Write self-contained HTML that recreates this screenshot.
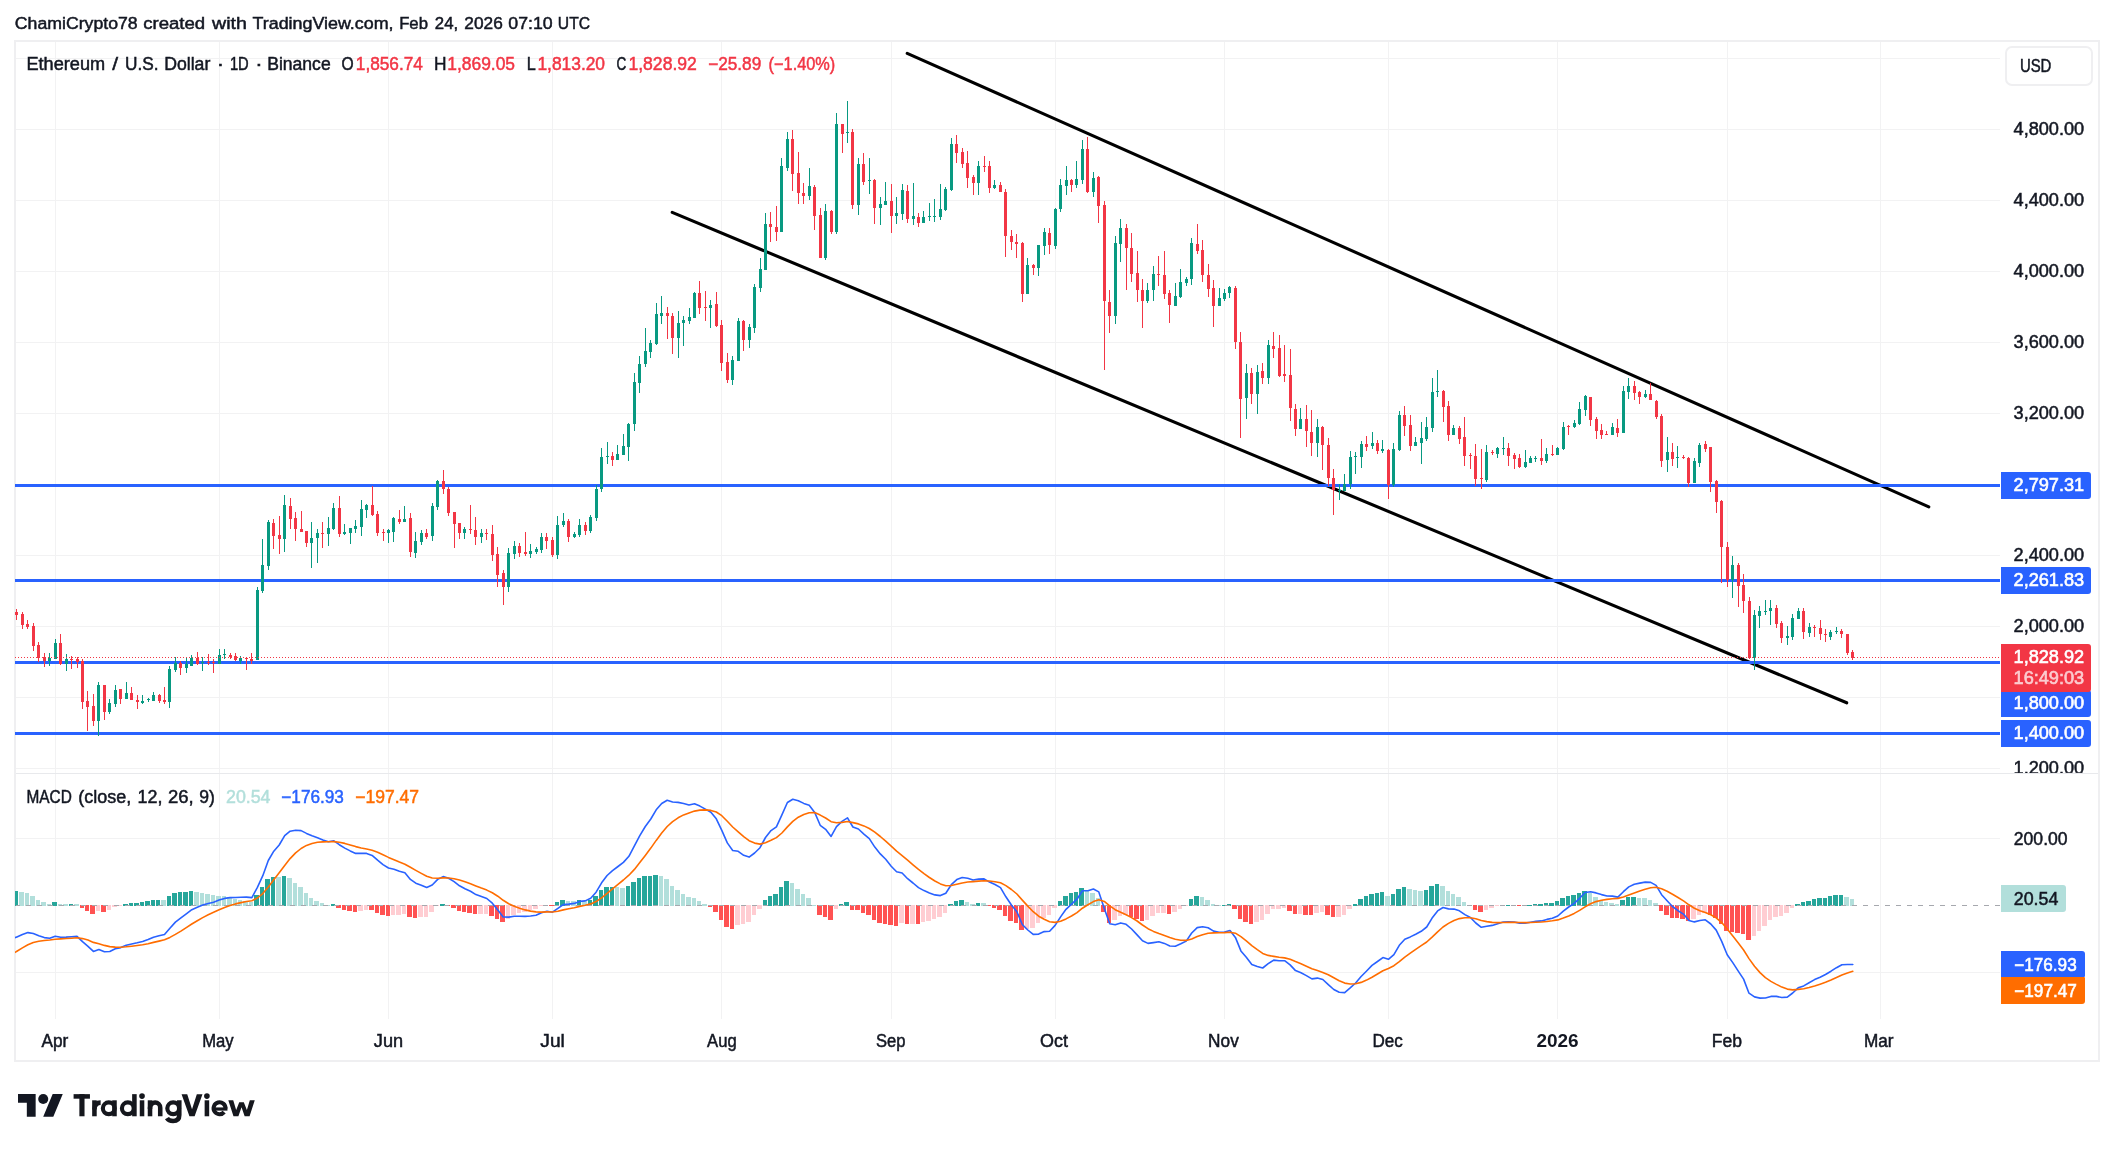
<!DOCTYPE html><html><head><meta charset="utf-8"><title>ETHUSD chart</title><style>html,body{margin:0;padding:0;background:#fff;overflow:hidden}</style></head><body><svg width="2114" height="1151" viewBox="0 0 2114 1151" style="display:block;will-change:transform">
<rect width="2114" height="1151" fill="#fff"/>
<g shape-rendering="crispEdges">
<rect x="55" y="42" width="1" height="977" fill="#F2F2F3"/>
<rect x="219" y="42" width="1" height="977" fill="#F2F2F3"/>
<rect x="388" y="42" width="1" height="977" fill="#F2F2F3"/>
<rect x="552" y="42" width="1" height="977" fill="#F2F2F3"/>
<rect x="721" y="42" width="1" height="977" fill="#F2F2F3"/>
<rect x="891" y="42" width="1" height="977" fill="#F2F2F3"/>
<rect x="1055" y="42" width="1" height="977" fill="#F2F2F3"/>
<rect x="1224" y="42" width="1" height="977" fill="#F2F2F3"/>
<rect x="1388" y="42" width="1" height="977" fill="#F2F2F3"/>
<rect x="1557" y="42" width="1" height="977" fill="#F2F2F3"/>
<rect x="1727" y="42" width="1" height="977" fill="#F2F2F3"/>
<rect x="1880" y="42" width="1" height="977" fill="#F2F2F3"/>
<rect x="16" y="768" width="1984" height="1" fill="#F2F2F3"/>
<rect x="16" y="697" width="1984" height="1" fill="#F2F2F3"/>
<rect x="16" y="626" width="1984" height="1" fill="#F2F2F3"/>
<rect x="16" y="555" width="1984" height="1" fill="#F2F2F3"/>
<rect x="16" y="484" width="1984" height="1" fill="#F2F2F3"/>
<rect x="16" y="413" width="1984" height="1" fill="#F2F2F3"/>
<rect x="16" y="342" width="1984" height="1" fill="#F2F2F3"/>
<rect x="16" y="271" width="1984" height="1" fill="#F2F2F3"/>
<rect x="16" y="200" width="1984" height="1" fill="#F2F2F3"/>
<rect x="16" y="129" width="1984" height="1" fill="#F2F2F3"/>
<rect x="16" y="58" width="1984" height="1" fill="#F2F2F3"/>
<rect x="16" y="838" width="1984" height="1" fill="#F2F2F3"/>
<rect x="16" y="972" width="1984" height="1" fill="#F2F2F3"/>
<rect x="16" y="773" width="2082" height="1" fill="#E8E9EC"/>
<rect x="14" y="40" width="2086" height="2" fill="#EFEFF1"/>
<rect x="14" y="1060" width="2086" height="2" fill="#EFEFF1"/>
<rect x="14" y="40" width="2" height="1022" fill="#EFEFF1"/>
<rect x="2098" y="40" width="2" height="1022" fill="#EFEFF1"/>
</g>
<line x1="672.2" y1="212.4" x2="1846.7" y2="702.8" stroke="#000" stroke-width="3.1" stroke-linecap="round"/>
<line x1="907.2" y1="53.3" x2="1928.8" y2="506.8" stroke="#000" stroke-width="3.1" stroke-linecap="round"/>
<g shape-rendering="crispEdges">
<rect x="15" y="484" width="1985" height="3" fill="#2962FF"/>
<rect x="15" y="579" width="1985" height="3" fill="#2962FF"/>
<rect x="15" y="661" width="1985" height="3" fill="#2962FF"/>
<rect x="15" y="732" width="1985" height="3" fill="#2962FF"/>
</g>
<g shape-rendering="crispEdges">
<rect x="16" y="609" width="1" height="11" fill="#F23645"/>
<rect x="15" y="612" width="3" height="3" fill="#F23645"/>
<rect x="22" y="612" width="1" height="17" fill="#F23645"/>
<rect x="21" y="614" width="3" height="11" fill="#F23645"/>
<rect x="27" y="620" width="1" height="9" fill="#F23645"/>
<rect x="26" y="624" width="3" height="3" fill="#F23645"/>
<rect x="33" y="623" width="1" height="28" fill="#F23645"/>
<rect x="32" y="626" width="3" height="20" fill="#F23645"/>
<rect x="38" y="642" width="1" height="20" fill="#F23645"/>
<rect x="37" y="645" width="3" height="13" fill="#F23645"/>
<rect x="44" y="653" width="1" height="14" fill="#F23645"/>
<rect x="43" y="657" width="3" height="4" fill="#F23645"/>
<rect x="49" y="653" width="1" height="13" fill="#089981"/>
<rect x="48" y="658" width="3" height="3" fill="#089981"/>
<rect x="55" y="639" width="1" height="20" fill="#089981"/>
<rect x="54" y="643" width="3" height="16" fill="#089981"/>
<rect x="60" y="634" width="1" height="31" fill="#F23645"/>
<rect x="59" y="643" width="3" height="21" fill="#F23645"/>
<rect x="66" y="654" width="1" height="17" fill="#089981"/>
<rect x="65" y="659" width="3" height="5" fill="#089981"/>
<rect x="71" y="656" width="1" height="13" fill="#F23645"/>
<rect x="70" y="659" width="3" height="1" fill="#F23645"/>
<rect x="77" y="657" width="1" height="11" fill="#F23645"/>
<rect x="76" y="659" width="3" height="3" fill="#F23645"/>
<rect x="82" y="659" width="1" height="50" fill="#F23645"/>
<rect x="81" y="661" width="3" height="41" fill="#F23645"/>
<rect x="87" y="691" width="1" height="40" fill="#F23645"/>
<rect x="86" y="701" width="3" height="6" fill="#F23645"/>
<rect x="93" y="694" width="1" height="32" fill="#F23645"/>
<rect x="92" y="706" width="3" height="15" fill="#F23645"/>
<rect x="98" y="682" width="1" height="54" fill="#089981"/>
<rect x="97" y="685" width="3" height="36" fill="#089981"/>
<rect x="104" y="685" width="1" height="35" fill="#F23645"/>
<rect x="103" y="685" width="3" height="27" fill="#F23645"/>
<rect x="109" y="699" width="1" height="15" fill="#089981"/>
<rect x="108" y="703" width="3" height="9" fill="#089981"/>
<rect x="115" y="685" width="1" height="22" fill="#089981"/>
<rect x="114" y="690" width="3" height="14" fill="#089981"/>
<rect x="120" y="689" width="1" height="15" fill="#F23645"/>
<rect x="119" y="689" width="3" height="10" fill="#F23645"/>
<rect x="126" y="682" width="1" height="17" fill="#089981"/>
<rect x="125" y="693" width="3" height="6" fill="#089981"/>
<rect x="131" y="687" width="1" height="13" fill="#F23645"/>
<rect x="130" y="693" width="3" height="7" fill="#F23645"/>
<rect x="137" y="695" width="1" height="14" fill="#F23645"/>
<rect x="136" y="700" width="3" height="2" fill="#F23645"/>
<rect x="142" y="695" width="1" height="9" fill="#089981"/>
<rect x="141" y="701" width="3" height="2" fill="#089981"/>
<rect x="148" y="698" width="1" height="4" fill="#089981"/>
<rect x="147" y="699" width="3" height="1" fill="#089981"/>
<rect x="153" y="692" width="1" height="9" fill="#089981"/>
<rect x="152" y="695" width="3" height="6" fill="#089981"/>
<rect x="159" y="694" width="1" height="9" fill="#F23645"/>
<rect x="158" y="695" width="3" height="6" fill="#F23645"/>
<rect x="164" y="687" width="1" height="17" fill="#F23645"/>
<rect x="163" y="700" width="3" height="2" fill="#F23645"/>
<rect x="169" y="666" width="1" height="42" fill="#089981"/>
<rect x="168" y="669" width="3" height="33" fill="#089981"/>
<rect x="175" y="657" width="1" height="15" fill="#089981"/>
<rect x="174" y="663" width="3" height="7" fill="#089981"/>
<rect x="180" y="661" width="1" height="14" fill="#F23645"/>
<rect x="179" y="663" width="3" height="5" fill="#F23645"/>
<rect x="186" y="657" width="1" height="16" fill="#089981"/>
<rect x="185" y="664" width="3" height="4" fill="#089981"/>
<rect x="191" y="655" width="1" height="11" fill="#089981"/>
<rect x="190" y="658" width="3" height="8" fill="#089981"/>
<rect x="197" y="652" width="1" height="13" fill="#F23645"/>
<rect x="196" y="658" width="3" height="6" fill="#F23645"/>
<rect x="202" y="657" width="1" height="14" fill="#089981"/>
<rect x="201" y="662" width="3" height="1" fill="#089981"/>
<rect x="208" y="654" width="1" height="11" fill="#F23645"/>
<rect x="207" y="662" width="3" height="1" fill="#F23645"/>
<rect x="213" y="659" width="1" height="14" fill="#F23645"/>
<rect x="212" y="662" width="3" height="1" fill="#F23645"/>
<rect x="219" y="649" width="1" height="15" fill="#089981"/>
<rect x="218" y="655" width="3" height="9" fill="#089981"/>
<rect x="224" y="649" width="1" height="10" fill="#089981"/>
<rect x="223" y="654" width="3" height="1" fill="#089981"/>
<rect x="230" y="653" width="1" height="6" fill="#F23645"/>
<rect x="229" y="655" width="3" height="2" fill="#F23645"/>
<rect x="235" y="653" width="1" height="8" fill="#F23645"/>
<rect x="234" y="656" width="3" height="4" fill="#F23645"/>
<rect x="240" y="656" width="1" height="8" fill="#089981"/>
<rect x="239" y="658" width="3" height="3" fill="#089981"/>
<rect x="246" y="657" width="1" height="13" fill="#F23645"/>
<rect x="245" y="658" width="3" height="1" fill="#F23645"/>
<rect x="251" y="653" width="1" height="11" fill="#F23645"/>
<rect x="250" y="659" width="3" height="2" fill="#F23645"/>
<rect x="257" y="587" width="1" height="73" fill="#089981"/>
<rect x="256" y="590" width="3" height="70" fill="#089981"/>
<rect x="262" y="539" width="1" height="54" fill="#089981"/>
<rect x="261" y="565" width="3" height="26" fill="#089981"/>
<rect x="268" y="520" width="1" height="50" fill="#089981"/>
<rect x="267" y="522" width="3" height="44" fill="#089981"/>
<rect x="273" y="519" width="1" height="30" fill="#F23645"/>
<rect x="272" y="523" width="3" height="13" fill="#F23645"/>
<rect x="279" y="516" width="1" height="38" fill="#F23645"/>
<rect x="278" y="535" width="3" height="4" fill="#F23645"/>
<rect x="284" y="495" width="1" height="57" fill="#089981"/>
<rect x="283" y="505" width="3" height="34" fill="#089981"/>
<rect x="290" y="498" width="1" height="31" fill="#F23645"/>
<rect x="289" y="506" width="3" height="13" fill="#F23645"/>
<rect x="295" y="512" width="1" height="29" fill="#F23645"/>
<rect x="294" y="518" width="3" height="11" fill="#F23645"/>
<rect x="301" y="511" width="1" height="21" fill="#F23645"/>
<rect x="300" y="529" width="3" height="3" fill="#F23645"/>
<rect x="306" y="531" width="1" height="16" fill="#F23645"/>
<rect x="305" y="531" width="3" height="12" fill="#F23645"/>
<rect x="311" y="522" width="1" height="46" fill="#089981"/>
<rect x="310" y="538" width="3" height="5" fill="#089981"/>
<rect x="317" y="529" width="1" height="34" fill="#089981"/>
<rect x="316" y="533" width="3" height="5" fill="#089981"/>
<rect x="322" y="522" width="1" height="26" fill="#F23645"/>
<rect x="321" y="533" width="3" height="1" fill="#F23645"/>
<rect x="328" y="517" width="1" height="29" fill="#089981"/>
<rect x="327" y="528" width="3" height="6" fill="#089981"/>
<rect x="333" y="503" width="1" height="27" fill="#089981"/>
<rect x="332" y="508" width="3" height="21" fill="#089981"/>
<rect x="339" y="496" width="1" height="41" fill="#F23645"/>
<rect x="338" y="508" width="3" height="26" fill="#F23645"/>
<rect x="344" y="524" width="1" height="11" fill="#089981"/>
<rect x="343" y="532" width="3" height="2" fill="#089981"/>
<rect x="350" y="528" width="1" height="16" fill="#089981"/>
<rect x="349" y="528" width="3" height="5" fill="#089981"/>
<rect x="355" y="520" width="1" height="13" fill="#089981"/>
<rect x="354" y="526" width="3" height="3" fill="#089981"/>
<rect x="361" y="500" width="1" height="36" fill="#089981"/>
<rect x="360" y="509" width="3" height="18" fill="#089981"/>
<rect x="366" y="504" width="1" height="14" fill="#089981"/>
<rect x="365" y="505" width="3" height="5" fill="#089981"/>
<rect x="372" y="486" width="1" height="30" fill="#F23645"/>
<rect x="371" y="505" width="3" height="10" fill="#F23645"/>
<rect x="377" y="511" width="1" height="25" fill="#F23645"/>
<rect x="376" y="514" width="3" height="19" fill="#F23645"/>
<rect x="383" y="529" width="1" height="12" fill="#F23645"/>
<rect x="382" y="532" width="3" height="1" fill="#F23645"/>
<rect x="388" y="529" width="1" height="14" fill="#089981"/>
<rect x="387" y="530" width="3" height="3" fill="#089981"/>
<rect x="393" y="517" width="1" height="25" fill="#089981"/>
<rect x="392" y="518" width="3" height="14" fill="#089981"/>
<rect x="399" y="510" width="1" height="14" fill="#F23645"/>
<rect x="398" y="519" width="3" height="3" fill="#F23645"/>
<rect x="404" y="506" width="1" height="16" fill="#089981"/>
<rect x="403" y="519" width="3" height="3" fill="#089981"/>
<rect x="410" y="513" width="1" height="44" fill="#F23645"/>
<rect x="409" y="518" width="3" height="34" fill="#F23645"/>
<rect x="415" y="532" width="1" height="26" fill="#089981"/>
<rect x="414" y="541" width="3" height="12" fill="#089981"/>
<rect x="421" y="530" width="1" height="15" fill="#089981"/>
<rect x="420" y="533" width="3" height="9" fill="#089981"/>
<rect x="426" y="529" width="1" height="10" fill="#F23645"/>
<rect x="425" y="533" width="3" height="4" fill="#F23645"/>
<rect x="432" y="503" width="1" height="38" fill="#089981"/>
<rect x="431" y="506" width="3" height="30" fill="#089981"/>
<rect x="437" y="480" width="1" height="30" fill="#089981"/>
<rect x="436" y="481" width="3" height="26" fill="#089981"/>
<rect x="443" y="470" width="1" height="24" fill="#F23645"/>
<rect x="442" y="481" width="3" height="8" fill="#F23645"/>
<rect x="448" y="487" width="1" height="29" fill="#F23645"/>
<rect x="447" y="489" width="3" height="24" fill="#F23645"/>
<rect x="454" y="512" width="1" height="36" fill="#F23645"/>
<rect x="453" y="512" width="3" height="12" fill="#F23645"/>
<rect x="459" y="523" width="1" height="16" fill="#F23645"/>
<rect x="458" y="523" width="3" height="10" fill="#F23645"/>
<rect x="464" y="527" width="1" height="12" fill="#089981"/>
<rect x="463" y="529" width="3" height="4" fill="#089981"/>
<rect x="470" y="505" width="1" height="29" fill="#F23645"/>
<rect x="469" y="529" width="3" height="1" fill="#F23645"/>
<rect x="475" y="517" width="1" height="28" fill="#F23645"/>
<rect x="474" y="530" width="3" height="7" fill="#F23645"/>
<rect x="481" y="529" width="1" height="14" fill="#089981"/>
<rect x="480" y="533" width="3" height="4" fill="#089981"/>
<rect x="486" y="529" width="1" height="11" fill="#F23645"/>
<rect x="485" y="533" width="3" height="1" fill="#F23645"/>
<rect x="492" y="525" width="1" height="36" fill="#F23645"/>
<rect x="491" y="534" width="3" height="21" fill="#F23645"/>
<rect x="497" y="547" width="1" height="40" fill="#F23645"/>
<rect x="496" y="554" width="3" height="21" fill="#F23645"/>
<rect x="503" y="570" width="1" height="35" fill="#F23645"/>
<rect x="502" y="573" width="3" height="14" fill="#F23645"/>
<rect x="508" y="548" width="1" height="44" fill="#089981"/>
<rect x="507" y="553" width="3" height="34" fill="#089981"/>
<rect x="514" y="541" width="1" height="18" fill="#089981"/>
<rect x="513" y="546" width="3" height="8" fill="#089981"/>
<rect x="519" y="543" width="1" height="14" fill="#F23645"/>
<rect x="518" y="546" width="3" height="7" fill="#F23645"/>
<rect x="525" y="532" width="1" height="24" fill="#F23645"/>
<rect x="524" y="552" width="3" height="2" fill="#F23645"/>
<rect x="530" y="544" width="1" height="14" fill="#089981"/>
<rect x="529" y="551" width="3" height="3" fill="#089981"/>
<rect x="536" y="547" width="1" height="7" fill="#089981"/>
<rect x="535" y="549" width="3" height="3" fill="#089981"/>
<rect x="541" y="533" width="1" height="20" fill="#089981"/>
<rect x="540" y="537" width="3" height="13" fill="#089981"/>
<rect x="546" y="533" width="1" height="16" fill="#F23645"/>
<rect x="545" y="537" width="3" height="4" fill="#F23645"/>
<rect x="552" y="537" width="1" height="20" fill="#F23645"/>
<rect x="551" y="540" width="3" height="15" fill="#F23645"/>
<rect x="557" y="516" width="1" height="43" fill="#089981"/>
<rect x="556" y="525" width="3" height="30" fill="#089981"/>
<rect x="563" y="513" width="1" height="14" fill="#089981"/>
<rect x="562" y="521" width="3" height="4" fill="#089981"/>
<rect x="568" y="519" width="1" height="23" fill="#F23645"/>
<rect x="567" y="521" width="3" height="16" fill="#F23645"/>
<rect x="574" y="532" width="1" height="6" fill="#089981"/>
<rect x="573" y="534" width="3" height="3" fill="#089981"/>
<rect x="579" y="519" width="1" height="18" fill="#089981"/>
<rect x="578" y="525" width="3" height="10" fill="#089981"/>
<rect x="585" y="522" width="1" height="13" fill="#F23645"/>
<rect x="584" y="525" width="3" height="6" fill="#F23645"/>
<rect x="590" y="515" width="1" height="18" fill="#089981"/>
<rect x="589" y="517" width="3" height="14" fill="#089981"/>
<rect x="596" y="485" width="1" height="36" fill="#089981"/>
<rect x="595" y="489" width="3" height="29" fill="#089981"/>
<rect x="601" y="448" width="1" height="44" fill="#089981"/>
<rect x="600" y="457" width="3" height="32" fill="#089981"/>
<rect x="607" y="442" width="1" height="22" fill="#089981"/>
<rect x="606" y="456" width="3" height="1" fill="#089981"/>
<rect x="612" y="452" width="1" height="14" fill="#F23645"/>
<rect x="611" y="456" width="3" height="4" fill="#F23645"/>
<rect x="617" y="445" width="1" height="15" fill="#089981"/>
<rect x="616" y="454" width="3" height="6" fill="#089981"/>
<rect x="623" y="434" width="1" height="21" fill="#089981"/>
<rect x="622" y="446" width="3" height="9" fill="#089981"/>
<rect x="628" y="423" width="1" height="38" fill="#089981"/>
<rect x="627" y="424" width="3" height="23" fill="#089981"/>
<rect x="634" y="373" width="1" height="58" fill="#089981"/>
<rect x="633" y="382" width="3" height="42" fill="#089981"/>
<rect x="639" y="356" width="1" height="37" fill="#089981"/>
<rect x="638" y="364" width="3" height="19" fill="#089981"/>
<rect x="645" y="328" width="1" height="39" fill="#089981"/>
<rect x="644" y="351" width="3" height="13" fill="#089981"/>
<rect x="650" y="340" width="1" height="18" fill="#089981"/>
<rect x="649" y="343" width="3" height="9" fill="#089981"/>
<rect x="656" y="303" width="1" height="42" fill="#089981"/>
<rect x="655" y="314" width="3" height="30" fill="#089981"/>
<rect x="661" y="296" width="1" height="28" fill="#089981"/>
<rect x="660" y="313" width="3" height="3" fill="#089981"/>
<rect x="667" y="307" width="1" height="32" fill="#F23645"/>
<rect x="666" y="313" width="3" height="3" fill="#F23645"/>
<rect x="672" y="313" width="1" height="41" fill="#F23645"/>
<rect x="671" y="316" width="3" height="22" fill="#F23645"/>
<rect x="678" y="311" width="1" height="47" fill="#089981"/>
<rect x="677" y="323" width="3" height="15" fill="#089981"/>
<rect x="683" y="316" width="1" height="30" fill="#089981"/>
<rect x="682" y="320" width="3" height="3" fill="#089981"/>
<rect x="689" y="308" width="1" height="16" fill="#089981"/>
<rect x="688" y="317" width="3" height="4" fill="#089981"/>
<rect x="694" y="292" width="1" height="26" fill="#089981"/>
<rect x="693" y="293" width="3" height="25" fill="#089981"/>
<rect x="699" y="281" width="1" height="33" fill="#F23645"/>
<rect x="698" y="293" width="3" height="15" fill="#F23645"/>
<rect x="705" y="291" width="1" height="30" fill="#F23645"/>
<rect x="704" y="307" width="3" height="1" fill="#F23645"/>
<rect x="710" y="300" width="1" height="28" fill="#089981"/>
<rect x="709" y="305" width="3" height="3" fill="#089981"/>
<rect x="716" y="292" width="1" height="35" fill="#F23645"/>
<rect x="715" y="304" width="3" height="22" fill="#F23645"/>
<rect x="721" y="320" width="1" height="51" fill="#F23645"/>
<rect x="720" y="325" width="3" height="38" fill="#F23645"/>
<rect x="727" y="353" width="1" height="30" fill="#F23645"/>
<rect x="726" y="362" width="3" height="18" fill="#F23645"/>
<rect x="732" y="356" width="1" height="29" fill="#089981"/>
<rect x="731" y="360" width="3" height="20" fill="#089981"/>
<rect x="738" y="318" width="1" height="43" fill="#089981"/>
<rect x="737" y="321" width="3" height="40" fill="#089981"/>
<rect x="743" y="320" width="1" height="31" fill="#F23645"/>
<rect x="742" y="321" width="3" height="19" fill="#F23645"/>
<rect x="749" y="324" width="1" height="24" fill="#089981"/>
<rect x="748" y="327" width="3" height="13" fill="#089981"/>
<rect x="754" y="284" width="1" height="49" fill="#089981"/>
<rect x="753" y="287" width="3" height="41" fill="#089981"/>
<rect x="760" y="258" width="1" height="34" fill="#089981"/>
<rect x="759" y="269" width="3" height="19" fill="#089981"/>
<rect x="765" y="213" width="1" height="57" fill="#089981"/>
<rect x="764" y="224" width="3" height="46" fill="#089981"/>
<rect x="770" y="212" width="1" height="30" fill="#F23645"/>
<rect x="769" y="224" width="3" height="3" fill="#F23645"/>
<rect x="776" y="206" width="1" height="35" fill="#F23645"/>
<rect x="775" y="227" width="3" height="5" fill="#F23645"/>
<rect x="781" y="158" width="1" height="74" fill="#089981"/>
<rect x="780" y="166" width="3" height="66" fill="#089981"/>
<rect x="787" y="132" width="1" height="39" fill="#089981"/>
<rect x="786" y="139" width="3" height="29" fill="#089981"/>
<rect x="792" y="130" width="1" height="61" fill="#F23645"/>
<rect x="791" y="139" width="3" height="35" fill="#F23645"/>
<rect x="798" y="152" width="1" height="52" fill="#F23645"/>
<rect x="797" y="173" width="3" height="20" fill="#F23645"/>
<rect x="803" y="183" width="1" height="21" fill="#F23645"/>
<rect x="802" y="193" width="3" height="3" fill="#F23645"/>
<rect x="809" y="168" width="1" height="32" fill="#089981"/>
<rect x="808" y="186" width="3" height="10" fill="#089981"/>
<rect x="814" y="185" width="1" height="45" fill="#F23645"/>
<rect x="813" y="187" width="3" height="29" fill="#F23645"/>
<rect x="820" y="208" width="1" height="50" fill="#F23645"/>
<rect x="819" y="215" width="3" height="43" fill="#F23645"/>
<rect x="825" y="204" width="1" height="56" fill="#089981"/>
<rect x="824" y="211" width="3" height="47" fill="#089981"/>
<rect x="831" y="210" width="1" height="24" fill="#F23645"/>
<rect x="830" y="211" width="3" height="21" fill="#F23645"/>
<rect x="836" y="113" width="1" height="121" fill="#089981"/>
<rect x="835" y="124" width="3" height="108" fill="#089981"/>
<rect x="842" y="124" width="1" height="29" fill="#F23645"/>
<rect x="841" y="124" width="3" height="10" fill="#F23645"/>
<rect x="847" y="101" width="1" height="42" fill="#089981"/>
<rect x="846" y="132" width="3" height="1" fill="#089981"/>
<rect x="852" y="129" width="1" height="80" fill="#F23645"/>
<rect x="851" y="132" width="3" height="73" fill="#F23645"/>
<rect x="858" y="158" width="1" height="57" fill="#089981"/>
<rect x="857" y="164" width="3" height="41" fill="#089981"/>
<rect x="863" y="153" width="1" height="32" fill="#F23645"/>
<rect x="862" y="164" width="3" height="18" fill="#F23645"/>
<rect x="869" y="158" width="1" height="36" fill="#089981"/>
<rect x="868" y="180" width="3" height="1" fill="#089981"/>
<rect x="874" y="179" width="1" height="45" fill="#F23645"/>
<rect x="873" y="180" width="3" height="28" fill="#F23645"/>
<rect x="880" y="197" width="1" height="28" fill="#089981"/>
<rect x="879" y="204" width="3" height="4" fill="#089981"/>
<rect x="885" y="182" width="1" height="23" fill="#089981"/>
<rect x="884" y="201" width="3" height="4" fill="#089981"/>
<rect x="891" y="184" width="1" height="49" fill="#F23645"/>
<rect x="890" y="201" width="3" height="15" fill="#F23645"/>
<rect x="896" y="197" width="1" height="27" fill="#089981"/>
<rect x="895" y="213" width="3" height="3" fill="#089981"/>
<rect x="902" y="184" width="1" height="36" fill="#089981"/>
<rect x="901" y="190" width="3" height="24" fill="#089981"/>
<rect x="907" y="185" width="1" height="38" fill="#F23645"/>
<rect x="906" y="191" width="3" height="28" fill="#F23645"/>
<rect x="913" y="183" width="1" height="42" fill="#089981"/>
<rect x="912" y="216" width="3" height="3" fill="#089981"/>
<rect x="918" y="213" width="1" height="14" fill="#F23645"/>
<rect x="917" y="217" width="3" height="6" fill="#F23645"/>
<rect x="923" y="211" width="1" height="12" fill="#089981"/>
<rect x="922" y="217" width="3" height="6" fill="#089981"/>
<rect x="929" y="203" width="1" height="18" fill="#089981"/>
<rect x="928" y="216" width="3" height="1" fill="#089981"/>
<rect x="934" y="199" width="1" height="23" fill="#089981"/>
<rect x="933" y="216" width="3" height="1" fill="#089981"/>
<rect x="940" y="184" width="1" height="36" fill="#089981"/>
<rect x="939" y="209" width="3" height="8" fill="#089981"/>
<rect x="945" y="187" width="1" height="24" fill="#089981"/>
<rect x="944" y="189" width="3" height="21" fill="#089981"/>
<rect x="951" y="138" width="1" height="53" fill="#089981"/>
<rect x="950" y="144" width="3" height="46" fill="#089981"/>
<rect x="956" y="135" width="1" height="28" fill="#F23645"/>
<rect x="955" y="144" width="3" height="9" fill="#F23645"/>
<rect x="962" y="148" width="1" height="20" fill="#F23645"/>
<rect x="961" y="152" width="3" height="12" fill="#F23645"/>
<rect x="967" y="151" width="1" height="37" fill="#F23645"/>
<rect x="966" y="163" width="3" height="15" fill="#F23645"/>
<rect x="973" y="175" width="1" height="20" fill="#F23645"/>
<rect x="972" y="177" width="3" height="6" fill="#F23645"/>
<rect x="978" y="161" width="1" height="34" fill="#089981"/>
<rect x="977" y="166" width="3" height="17" fill="#089981"/>
<rect x="984" y="156" width="1" height="16" fill="#F23645"/>
<rect x="983" y="166" width="3" height="1" fill="#F23645"/>
<rect x="989" y="161" width="1" height="32" fill="#F23645"/>
<rect x="988" y="166" width="3" height="22" fill="#F23645"/>
<rect x="994" y="180" width="1" height="9" fill="#089981"/>
<rect x="993" y="185" width="3" height="3" fill="#089981"/>
<rect x="1000" y="182" width="1" height="10" fill="#F23645"/>
<rect x="999" y="185" width="3" height="7" fill="#F23645"/>
<rect x="1005" y="189" width="1" height="68" fill="#F23645"/>
<rect x="1004" y="192" width="3" height="44" fill="#F23645"/>
<rect x="1011" y="230" width="1" height="20" fill="#F23645"/>
<rect x="1010" y="236" width="3" height="6" fill="#F23645"/>
<rect x="1016" y="234" width="1" height="24" fill="#F23645"/>
<rect x="1015" y="242" width="3" height="2" fill="#F23645"/>
<rect x="1022" y="242" width="1" height="60" fill="#F23645"/>
<rect x="1021" y="243" width="3" height="51" fill="#F23645"/>
<rect x="1027" y="258" width="1" height="36" fill="#089981"/>
<rect x="1026" y="265" width="3" height="29" fill="#089981"/>
<rect x="1033" y="264" width="1" height="11" fill="#F23645"/>
<rect x="1032" y="265" width="3" height="3" fill="#F23645"/>
<rect x="1038" y="245" width="1" height="31" fill="#089981"/>
<rect x="1037" y="245" width="3" height="23" fill="#089981"/>
<rect x="1044" y="228" width="1" height="27" fill="#089981"/>
<rect x="1043" y="232" width="3" height="14" fill="#089981"/>
<rect x="1049" y="228" width="1" height="26" fill="#F23645"/>
<rect x="1048" y="233" width="3" height="12" fill="#F23645"/>
<rect x="1055" y="208" width="1" height="41" fill="#089981"/>
<rect x="1054" y="209" width="3" height="37" fill="#089981"/>
<rect x="1060" y="179" width="1" height="33" fill="#089981"/>
<rect x="1059" y="185" width="3" height="24" fill="#089981"/>
<rect x="1066" y="166" width="1" height="29" fill="#089981"/>
<rect x="1065" y="180" width="3" height="6" fill="#089981"/>
<rect x="1071" y="179" width="1" height="13" fill="#F23645"/>
<rect x="1070" y="180" width="3" height="5" fill="#F23645"/>
<rect x="1076" y="161" width="1" height="27" fill="#089981"/>
<rect x="1075" y="179" width="3" height="6" fill="#089981"/>
<rect x="1082" y="140" width="1" height="44" fill="#089981"/>
<rect x="1081" y="149" width="3" height="31" fill="#089981"/>
<rect x="1087" y="137" width="1" height="56" fill="#F23645"/>
<rect x="1086" y="149" width="3" height="43" fill="#F23645"/>
<rect x="1093" y="172" width="1" height="25" fill="#089981"/>
<rect x="1092" y="178" width="3" height="14" fill="#089981"/>
<rect x="1098" y="176" width="1" height="47" fill="#F23645"/>
<rect x="1097" y="177" width="3" height="29" fill="#F23645"/>
<rect x="1104" y="201" width="1" height="169" fill="#F23645"/>
<rect x="1103" y="205" width="3" height="96" fill="#F23645"/>
<rect x="1109" y="290" width="1" height="43" fill="#F23645"/>
<rect x="1108" y="302" width="3" height="14" fill="#F23645"/>
<rect x="1115" y="236" width="1" height="88" fill="#089981"/>
<rect x="1114" y="243" width="3" height="73" fill="#089981"/>
<rect x="1120" y="219" width="1" height="43" fill="#089981"/>
<rect x="1119" y="228" width="3" height="16" fill="#089981"/>
<rect x="1126" y="224" width="1" height="66" fill="#F23645"/>
<rect x="1125" y="228" width="3" height="20" fill="#F23645"/>
<rect x="1131" y="233" width="1" height="49" fill="#F23645"/>
<rect x="1130" y="248" width="3" height="26" fill="#F23645"/>
<rect x="1137" y="251" width="1" height="51" fill="#F23645"/>
<rect x="1136" y="273" width="3" height="17" fill="#F23645"/>
<rect x="1142" y="279" width="1" height="49" fill="#F23645"/>
<rect x="1141" y="290" width="3" height="11" fill="#F23645"/>
<rect x="1147" y="283" width="1" height="20" fill="#089981"/>
<rect x="1146" y="290" width="3" height="11" fill="#089981"/>
<rect x="1153" y="266" width="1" height="35" fill="#089981"/>
<rect x="1152" y="274" width="3" height="16" fill="#089981"/>
<rect x="1158" y="256" width="1" height="30" fill="#F23645"/>
<rect x="1157" y="274" width="3" height="1" fill="#F23645"/>
<rect x="1164" y="251" width="1" height="48" fill="#F23645"/>
<rect x="1163" y="275" width="3" height="19" fill="#F23645"/>
<rect x="1169" y="290" width="1" height="33" fill="#F23645"/>
<rect x="1168" y="293" width="3" height="12" fill="#F23645"/>
<rect x="1175" y="283" width="1" height="23" fill="#089981"/>
<rect x="1174" y="296" width="3" height="10" fill="#089981"/>
<rect x="1180" y="269" width="1" height="29" fill="#089981"/>
<rect x="1179" y="282" width="3" height="15" fill="#089981"/>
<rect x="1186" y="277" width="1" height="9" fill="#089981"/>
<rect x="1185" y="279" width="3" height="4" fill="#089981"/>
<rect x="1191" y="238" width="1" height="47" fill="#089981"/>
<rect x="1190" y="243" width="3" height="36" fill="#089981"/>
<rect x="1197" y="224" width="1" height="30" fill="#F23645"/>
<rect x="1196" y="244" width="3" height="7" fill="#F23645"/>
<rect x="1202" y="240" width="1" height="42" fill="#F23645"/>
<rect x="1201" y="250" width="3" height="25" fill="#F23645"/>
<rect x="1208" y="264" width="1" height="33" fill="#F23645"/>
<rect x="1207" y="275" width="3" height="14" fill="#F23645"/>
<rect x="1213" y="280" width="1" height="47" fill="#F23645"/>
<rect x="1212" y="288" width="3" height="18" fill="#F23645"/>
<rect x="1219" y="288" width="1" height="18" fill="#089981"/>
<rect x="1218" y="298" width="3" height="8" fill="#089981"/>
<rect x="1224" y="289" width="1" height="12" fill="#089981"/>
<rect x="1223" y="293" width="3" height="6" fill="#089981"/>
<rect x="1229" y="286" width="1" height="12" fill="#089981"/>
<rect x="1228" y="287" width="3" height="6" fill="#089981"/>
<rect x="1235" y="286" width="1" height="63" fill="#F23645"/>
<rect x="1234" y="288" width="3" height="54" fill="#F23645"/>
<rect x="1240" y="332" width="1" height="106" fill="#F23645"/>
<rect x="1239" y="342" width="3" height="57" fill="#F23645"/>
<rect x="1246" y="364" width="1" height="55" fill="#089981"/>
<rect x="1245" y="373" width="3" height="25" fill="#089981"/>
<rect x="1251" y="368" width="1" height="36" fill="#F23645"/>
<rect x="1250" y="373" width="3" height="21" fill="#F23645"/>
<rect x="1257" y="365" width="1" height="49" fill="#089981"/>
<rect x="1256" y="372" width="3" height="22" fill="#089981"/>
<rect x="1262" y="363" width="1" height="21" fill="#F23645"/>
<rect x="1261" y="371" width="3" height="7" fill="#F23645"/>
<rect x="1268" y="340" width="1" height="44" fill="#089981"/>
<rect x="1267" y="345" width="3" height="33" fill="#089981"/>
<rect x="1273" y="332" width="1" height="26" fill="#F23645"/>
<rect x="1272" y="346" width="3" height="3" fill="#F23645"/>
<rect x="1279" y="335" width="1" height="42" fill="#F23645"/>
<rect x="1278" y="348" width="3" height="28" fill="#F23645"/>
<rect x="1284" y="345" width="1" height="37" fill="#F23645"/>
<rect x="1283" y="374" width="3" height="2" fill="#F23645"/>
<rect x="1290" y="349" width="1" height="72" fill="#F23645"/>
<rect x="1289" y="375" width="3" height="33" fill="#F23645"/>
<rect x="1295" y="404" width="1" height="32" fill="#F23645"/>
<rect x="1294" y="409" width="3" height="20" fill="#F23645"/>
<rect x="1300" y="408" width="1" height="21" fill="#089981"/>
<rect x="1299" y="419" width="3" height="10" fill="#089981"/>
<rect x="1306" y="405" width="1" height="42" fill="#F23645"/>
<rect x="1305" y="419" width="3" height="12" fill="#F23645"/>
<rect x="1311" y="410" width="1" height="46" fill="#F23645"/>
<rect x="1310" y="432" width="3" height="11" fill="#F23645"/>
<rect x="1317" y="419" width="1" height="38" fill="#089981"/>
<rect x="1316" y="427" width="3" height="16" fill="#089981"/>
<rect x="1322" y="426" width="1" height="44" fill="#F23645"/>
<rect x="1321" y="427" width="3" height="18" fill="#F23645"/>
<rect x="1328" y="438" width="1" height="48" fill="#F23645"/>
<rect x="1327" y="445" width="3" height="33" fill="#F23645"/>
<rect x="1333" y="469" width="1" height="46" fill="#F23645"/>
<rect x="1332" y="478" width="3" height="12" fill="#F23645"/>
<rect x="1339" y="484" width="1" height="16" fill="#089981"/>
<rect x="1338" y="490" width="3" height="1" fill="#089981"/>
<rect x="1344" y="474" width="1" height="17" fill="#089981"/>
<rect x="1343" y="484" width="3" height="7" fill="#089981"/>
<rect x="1350" y="451" width="1" height="38" fill="#089981"/>
<rect x="1349" y="457" width="3" height="27" fill="#089981"/>
<rect x="1355" y="452" width="1" height="22" fill="#089981"/>
<rect x="1354" y="456" width="3" height="1" fill="#089981"/>
<rect x="1361" y="441" width="1" height="27" fill="#089981"/>
<rect x="1360" y="444" width="3" height="13" fill="#089981"/>
<rect x="1366" y="436" width="1" height="15" fill="#F23645"/>
<rect x="1365" y="444" width="3" height="3" fill="#F23645"/>
<rect x="1372" y="432" width="1" height="17" fill="#089981"/>
<rect x="1371" y="443" width="3" height="3" fill="#089981"/>
<rect x="1377" y="440" width="1" height="14" fill="#F23645"/>
<rect x="1376" y="443" width="3" height="8" fill="#F23645"/>
<rect x="1382" y="440" width="1" height="13" fill="#089981"/>
<rect x="1381" y="449" width="3" height="2" fill="#089981"/>
<rect x="1388" y="449" width="1" height="50" fill="#F23645"/>
<rect x="1387" y="450" width="3" height="35" fill="#F23645"/>
<rect x="1393" y="443" width="1" height="44" fill="#089981"/>
<rect x="1392" y="449" width="3" height="36" fill="#089981"/>
<rect x="1399" y="411" width="1" height="40" fill="#089981"/>
<rect x="1398" y="415" width="3" height="35" fill="#089981"/>
<rect x="1404" y="406" width="1" height="30" fill="#F23645"/>
<rect x="1403" y="415" width="3" height="11" fill="#F23645"/>
<rect x="1410" y="415" width="1" height="36" fill="#F23645"/>
<rect x="1409" y="425" width="3" height="21" fill="#F23645"/>
<rect x="1415" y="437" width="1" height="9" fill="#089981"/>
<rect x="1414" y="442" width="3" height="4" fill="#089981"/>
<rect x="1421" y="422" width="1" height="42" fill="#089981"/>
<rect x="1420" y="438" width="3" height="5" fill="#089981"/>
<rect x="1426" y="417" width="1" height="24" fill="#089981"/>
<rect x="1425" y="427" width="3" height="12" fill="#089981"/>
<rect x="1432" y="378" width="1" height="54" fill="#089981"/>
<rect x="1431" y="392" width="3" height="36" fill="#089981"/>
<rect x="1437" y="370" width="1" height="27" fill="#089981"/>
<rect x="1436" y="391" width="3" height="1" fill="#089981"/>
<rect x="1443" y="390" width="1" height="32" fill="#F23645"/>
<rect x="1442" y="391" width="3" height="16" fill="#F23645"/>
<rect x="1448" y="401" width="1" height="40" fill="#F23645"/>
<rect x="1447" y="406" width="3" height="29" fill="#F23645"/>
<rect x="1453" y="425" width="1" height="10" fill="#089981"/>
<rect x="1452" y="428" width="3" height="7" fill="#089981"/>
<rect x="1459" y="426" width="1" height="18" fill="#F23645"/>
<rect x="1458" y="428" width="3" height="11" fill="#F23645"/>
<rect x="1464" y="417" width="1" height="49" fill="#F23645"/>
<rect x="1463" y="437" width="3" height="19" fill="#F23645"/>
<rect x="1470" y="453" width="1" height="16" fill="#F23645"/>
<rect x="1469" y="455" width="3" height="1" fill="#F23645"/>
<rect x="1475" y="444" width="1" height="42" fill="#F23645"/>
<rect x="1474" y="456" width="3" height="23" fill="#F23645"/>
<rect x="1481" y="449" width="1" height="40" fill="#F23645"/>
<rect x="1480" y="478" width="3" height="1" fill="#F23645"/>
<rect x="1486" y="445" width="1" height="37" fill="#089981"/>
<rect x="1485" y="452" width="3" height="28" fill="#089981"/>
<rect x="1492" y="450" width="1" height="5" fill="#F23645"/>
<rect x="1491" y="452" width="3" height="1" fill="#F23645"/>
<rect x="1497" y="447" width="1" height="11" fill="#089981"/>
<rect x="1496" y="448" width="3" height="6" fill="#089981"/>
<rect x="1503" y="437" width="1" height="18" fill="#089981"/>
<rect x="1502" y="448" width="3" height="1" fill="#089981"/>
<rect x="1508" y="443" width="1" height="23" fill="#F23645"/>
<rect x="1507" y="448" width="3" height="8" fill="#F23645"/>
<rect x="1514" y="453" width="1" height="16" fill="#F23645"/>
<rect x="1513" y="455" width="3" height="4" fill="#F23645"/>
<rect x="1519" y="454" width="1" height="14" fill="#F23645"/>
<rect x="1518" y="458" width="3" height="9" fill="#F23645"/>
<rect x="1525" y="450" width="1" height="18" fill="#089981"/>
<rect x="1524" y="462" width="3" height="5" fill="#089981"/>
<rect x="1530" y="456" width="1" height="7" fill="#089981"/>
<rect x="1529" y="458" width="3" height="5" fill="#089981"/>
<rect x="1535" y="456" width="1" height="6" fill="#089981"/>
<rect x="1534" y="458" width="3" height="1" fill="#089981"/>
<rect x="1541" y="439" width="1" height="26" fill="#F23645"/>
<rect x="1540" y="458" width="3" height="3" fill="#F23645"/>
<rect x="1546" y="448" width="1" height="15" fill="#089981"/>
<rect x="1545" y="454" width="3" height="7" fill="#089981"/>
<rect x="1552" y="445" width="1" height="11" fill="#F23645"/>
<rect x="1551" y="454" width="3" height="1" fill="#F23645"/>
<rect x="1557" y="447" width="1" height="8" fill="#089981"/>
<rect x="1556" y="448" width="3" height="7" fill="#089981"/>
<rect x="1563" y="422" width="1" height="28" fill="#089981"/>
<rect x="1562" y="427" width="3" height="22" fill="#089981"/>
<rect x="1568" y="425" width="1" height="10" fill="#F23645"/>
<rect x="1567" y="426" width="3" height="1" fill="#F23645"/>
<rect x="1574" y="420" width="1" height="8" fill="#089981"/>
<rect x="1573" y="423" width="3" height="4" fill="#089981"/>
<rect x="1579" y="402" width="1" height="23" fill="#089981"/>
<rect x="1578" y="409" width="3" height="15" fill="#089981"/>
<rect x="1585" y="395" width="1" height="21" fill="#089981"/>
<rect x="1584" y="396" width="3" height="14" fill="#089981"/>
<rect x="1590" y="397" width="1" height="29" fill="#F23645"/>
<rect x="1589" y="397" width="3" height="23" fill="#F23645"/>
<rect x="1596" y="417" width="1" height="22" fill="#F23645"/>
<rect x="1595" y="419" width="3" height="12" fill="#F23645"/>
<rect x="1601" y="424" width="1" height="15" fill="#F23645"/>
<rect x="1600" y="430" width="3" height="5" fill="#F23645"/>
<rect x="1606" y="431" width="1" height="4" fill="#F23645"/>
<rect x="1605" y="434" width="3" height="1" fill="#F23645"/>
<rect x="1612" y="423" width="1" height="12" fill="#089981"/>
<rect x="1611" y="427" width="3" height="8" fill="#089981"/>
<rect x="1617" y="419" width="1" height="18" fill="#F23645"/>
<rect x="1616" y="428" width="3" height="5" fill="#F23645"/>
<rect x="1623" y="386" width="1" height="47" fill="#089981"/>
<rect x="1622" y="391" width="3" height="42" fill="#089981"/>
<rect x="1628" y="378" width="1" height="21" fill="#089981"/>
<rect x="1627" y="386" width="3" height="6" fill="#089981"/>
<rect x="1634" y="381" width="1" height="19" fill="#F23645"/>
<rect x="1633" y="386" width="3" height="7" fill="#F23645"/>
<rect x="1639" y="391" width="1" height="13" fill="#F23645"/>
<rect x="1638" y="392" width="3" height="5" fill="#F23645"/>
<rect x="1645" y="390" width="1" height="8" fill="#089981"/>
<rect x="1644" y="394" width="3" height="3" fill="#089981"/>
<rect x="1650" y="383" width="1" height="17" fill="#F23645"/>
<rect x="1649" y="394" width="3" height="6" fill="#F23645"/>
<rect x="1656" y="400" width="1" height="19" fill="#F23645"/>
<rect x="1655" y="401" width="3" height="16" fill="#F23645"/>
<rect x="1661" y="414" width="1" height="53" fill="#F23645"/>
<rect x="1660" y="416" width="3" height="45" fill="#F23645"/>
<rect x="1667" y="437" width="1" height="35" fill="#089981"/>
<rect x="1666" y="452" width="3" height="8" fill="#089981"/>
<rect x="1672" y="443" width="1" height="23" fill="#F23645"/>
<rect x="1671" y="452" width="3" height="7" fill="#F23645"/>
<rect x="1677" y="446" width="1" height="22" fill="#089981"/>
<rect x="1676" y="457" width="3" height="1" fill="#089981"/>
<rect x="1683" y="455" width="1" height="4" fill="#F23645"/>
<rect x="1682" y="457" width="3" height="1" fill="#F23645"/>
<rect x="1688" y="457" width="1" height="30" fill="#F23645"/>
<rect x="1687" y="458" width="3" height="25" fill="#F23645"/>
<rect x="1694" y="458" width="1" height="25" fill="#089981"/>
<rect x="1693" y="461" width="3" height="22" fill="#089981"/>
<rect x="1699" y="443" width="1" height="24" fill="#089981"/>
<rect x="1698" y="445" width="3" height="18" fill="#089981"/>
<rect x="1705" y="441" width="1" height="11" fill="#F23645"/>
<rect x="1704" y="444" width="3" height="5" fill="#F23645"/>
<rect x="1710" y="447" width="1" height="45" fill="#F23645"/>
<rect x="1709" y="447" width="3" height="35" fill="#F23645"/>
<rect x="1716" y="480" width="1" height="33" fill="#F23645"/>
<rect x="1715" y="481" width="3" height="21" fill="#F23645"/>
<rect x="1721" y="500" width="1" height="83" fill="#F23645"/>
<rect x="1720" y="501" width="3" height="46" fill="#F23645"/>
<rect x="1727" y="542" width="1" height="45" fill="#F23645"/>
<rect x="1726" y="547" width="3" height="33" fill="#F23645"/>
<rect x="1732" y="556" width="1" height="42" fill="#089981"/>
<rect x="1731" y="565" width="3" height="15" fill="#089981"/>
<rect x="1738" y="563" width="1" height="44" fill="#F23645"/>
<rect x="1737" y="565" width="3" height="21" fill="#F23645"/>
<rect x="1743" y="574" width="1" height="39" fill="#F23645"/>
<rect x="1742" y="585" width="3" height="16" fill="#F23645"/>
<rect x="1749" y="597" width="1" height="62" fill="#F23645"/>
<rect x="1748" y="601" width="3" height="57" fill="#F23645"/>
<rect x="1754" y="610" width="1" height="60" fill="#089981"/>
<rect x="1753" y="615" width="3" height="43" fill="#089981"/>
<rect x="1759" y="606" width="1" height="22" fill="#089981"/>
<rect x="1758" y="611" width="3" height="5" fill="#089981"/>
<rect x="1765" y="600" width="1" height="15" fill="#089981"/>
<rect x="1764" y="611" width="3" height="1" fill="#089981"/>
<rect x="1770" y="600" width="1" height="25" fill="#089981"/>
<rect x="1769" y="608" width="3" height="3" fill="#089981"/>
<rect x="1776" y="605" width="1" height="23" fill="#F23645"/>
<rect x="1775" y="608" width="3" height="16" fill="#F23645"/>
<rect x="1781" y="621" width="1" height="22" fill="#F23645"/>
<rect x="1780" y="623" width="3" height="15" fill="#F23645"/>
<rect x="1787" y="626" width="1" height="19" fill="#089981"/>
<rect x="1786" y="636" width="3" height="2" fill="#089981"/>
<rect x="1792" y="614" width="1" height="26" fill="#089981"/>
<rect x="1791" y="618" width="3" height="19" fill="#089981"/>
<rect x="1798" y="608" width="1" height="11" fill="#089981"/>
<rect x="1797" y="611" width="3" height="8" fill="#089981"/>
<rect x="1803" y="608" width="1" height="31" fill="#F23645"/>
<rect x="1802" y="611" width="3" height="21" fill="#F23645"/>
<rect x="1809" y="623" width="1" height="14" fill="#089981"/>
<rect x="1808" y="627" width="3" height="6" fill="#089981"/>
<rect x="1814" y="625" width="1" height="12" fill="#F23645"/>
<rect x="1813" y="627" width="3" height="1" fill="#F23645"/>
<rect x="1820" y="620" width="1" height="20" fill="#F23645"/>
<rect x="1819" y="628" width="3" height="6" fill="#F23645"/>
<rect x="1825" y="629" width="1" height="13" fill="#F23645"/>
<rect x="1824" y="634" width="3" height="1" fill="#F23645"/>
<rect x="1830" y="630" width="1" height="10" fill="#089981"/>
<rect x="1829" y="632" width="3" height="5" fill="#089981"/>
<rect x="1836" y="627" width="1" height="7" fill="#089981"/>
<rect x="1835" y="631" width="3" height="1" fill="#089981"/>
<rect x="1841" y="629" width="1" height="9" fill="#F23645"/>
<rect x="1840" y="631" width="3" height="3" fill="#F23645"/>
<rect x="1847" y="634" width="1" height="21" fill="#F23645"/>
<rect x="1846" y="634" width="3" height="19" fill="#F23645"/>
<rect x="1852" y="650" width="1" height="10" fill="#F23645"/>
<rect x="1851" y="652" width="3" height="6" fill="#F23645"/>
</g>
<line x1="15" y1="657.5" x2="2000" y2="657.5" stroke="#F23645" stroke-width="1" stroke-dasharray="1 2" stroke-dashoffset="0" shape-rendering="crispEdges"/>
<clipPath id="pane"><rect x="15" y="42" width="1985" height="977"/></clipPath>
<g shape-rendering="crispEdges">
<rect x="15" y="891" width="3" height="15" fill="#26A69A"/>
<rect x="19" y="892" width="5" height="14" fill="#B2DFDB"/>
<rect x="25" y="893" width="4" height="13" fill="#B2DFDB"/>
<rect x="30" y="896" width="5" height="10" fill="#B2DFDB"/>
<rect x="36" y="900" width="4" height="6" fill="#B2DFDB"/>
<rect x="41" y="902" width="5" height="4" fill="#B2DFDB"/>
<rect x="47" y="904" width="4" height="2" fill="#B2DFDB"/>
<rect x="52" y="902" width="5" height="4" fill="#26A69A"/>
<rect x="58" y="904" width="4" height="2" fill="#B2DFDB"/>
<rect x="63" y="904" width="5" height="2" fill="#B2DFDB"/>
<rect x="69" y="904" width="4" height="2" fill="#26A69A"/>
<rect x="74" y="904" width="5" height="2" fill="#B2DFDB"/>
<rect x="80" y="905" width="4" height="3" fill="#FF5252"/>
<rect x="85" y="905" width="4" height="6" fill="#FF5252"/>
<rect x="90" y="905" width="5" height="9" fill="#FF5252"/>
<rect x="96" y="905" width="4" height="6" fill="#FFCDD2"/>
<rect x="101" y="905" width="5" height="7" fill="#FF5252"/>
<rect x="107" y="905" width="4" height="5" fill="#FFCDD2"/>
<rect x="112" y="905" width="5" height="2" fill="#FFCDD2"/>
<rect x="118" y="905" width="4" height="1" fill="#FFCDD2"/>
<rect x="123" y="904" width="5" height="2" fill="#26A69A"/>
<rect x="129" y="903" width="4" height="3" fill="#26A69A"/>
<rect x="134" y="903" width="5" height="3" fill="#26A69A"/>
<rect x="140" y="902" width="4" height="4" fill="#26A69A"/>
<rect x="145" y="901" width="5" height="5" fill="#26A69A"/>
<rect x="151" y="900" width="4" height="6" fill="#26A69A"/>
<rect x="156" y="900" width="4" height="6" fill="#26A69A"/>
<rect x="161" y="900" width="5" height="6" fill="#B2DFDB"/>
<rect x="167" y="896" width="4" height="10" fill="#26A69A"/>
<rect x="172" y="893" width="5" height="13" fill="#26A69A"/>
<rect x="178" y="892" width="4" height="14" fill="#26A69A"/>
<rect x="183" y="892" width="5" height="14" fill="#26A69A"/>
<rect x="189" y="891" width="4" height="15" fill="#26A69A"/>
<rect x="194" y="892" width="5" height="14" fill="#B2DFDB"/>
<rect x="200" y="893" width="4" height="13" fill="#B2DFDB"/>
<rect x="205" y="894" width="5" height="12" fill="#B2DFDB"/>
<rect x="211" y="895" width="4" height="11" fill="#B2DFDB"/>
<rect x="216" y="896" width="5" height="10" fill="#B2DFDB"/>
<rect x="222" y="896" width="4" height="10" fill="#B2DFDB"/>
<rect x="227" y="897" width="5" height="9" fill="#B2DFDB"/>
<rect x="233" y="899" width="4" height="7" fill="#B2DFDB"/>
<rect x="238" y="900" width="4" height="6" fill="#B2DFDB"/>
<rect x="243" y="901" width="5" height="5" fill="#B2DFDB"/>
<rect x="249" y="902" width="4" height="4" fill="#B2DFDB"/>
<rect x="254" y="895" width="5" height="11" fill="#26A69A"/>
<rect x="260" y="887" width="4" height="19" fill="#26A69A"/>
<rect x="265" y="879" width="5" height="27" fill="#26A69A"/>
<rect x="271" y="877" width="4" height="29" fill="#26A69A"/>
<rect x="276" y="877" width="5" height="29" fill="#B2DFDB"/>
<rect x="282" y="876" width="4" height="30" fill="#26A69A"/>
<rect x="287" y="878" width="5" height="28" fill="#B2DFDB"/>
<rect x="293" y="883" width="4" height="23" fill="#B2DFDB"/>
<rect x="298" y="887" width="5" height="19" fill="#B2DFDB"/>
<rect x="304" y="893" width="4" height="13" fill="#B2DFDB"/>
<rect x="309" y="898" width="4" height="8" fill="#B2DFDB"/>
<rect x="314" y="901" width="5" height="5" fill="#B2DFDB"/>
<rect x="320" y="903" width="4" height="3" fill="#B2DFDB"/>
<rect x="325" y="905" width="5" height="1" fill="#B2DFDB"/>
<rect x="331" y="904" width="4" height="2" fill="#26A69A"/>
<rect x="336" y="905" width="5" height="3" fill="#FF5252"/>
<rect x="342" y="905" width="4" height="5" fill="#FF5252"/>
<rect x="347" y="905" width="5" height="6" fill="#FF5252"/>
<rect x="353" y="905" width="4" height="7" fill="#FF5252"/>
<rect x="358" y="905" width="5" height="6" fill="#FFCDD2"/>
<rect x="364" y="905" width="4" height="5" fill="#FFCDD2"/>
<rect x="369" y="905" width="5" height="5" fill="#FF5252"/>
<rect x="375" y="905" width="4" height="8" fill="#FF5252"/>
<rect x="380" y="905" width="5" height="10" fill="#FF5252"/>
<rect x="386" y="905" width="4" height="11" fill="#FF5252"/>
<rect x="391" y="905" width="4" height="10" fill="#FFCDD2"/>
<rect x="396" y="905" width="5" height="10" fill="#FFCDD2"/>
<rect x="402" y="905" width="4" height="9" fill="#FFCDD2"/>
<rect x="407" y="905" width="5" height="12" fill="#FF5252"/>
<rect x="413" y="905" width="4" height="13" fill="#FF5252"/>
<rect x="418" y="905" width="5" height="12" fill="#FFCDD2"/>
<rect x="424" y="905" width="4" height="12" fill="#FFCDD2"/>
<rect x="429" y="905" width="5" height="7" fill="#FFCDD2"/>
<rect x="435" y="905" width="4" height="1" fill="#FFCDD2"/>
<rect x="440" y="904" width="5" height="2" fill="#26A69A"/>
<rect x="446" y="905" width="4" height="1" fill="#FF5252"/>
<rect x="451" y="905" width="5" height="3" fill="#FF5252"/>
<rect x="457" y="905" width="4" height="6" fill="#FF5252"/>
<rect x="462" y="905" width="4" height="7" fill="#FF5252"/>
<rect x="467" y="905" width="5" height="8" fill="#FF5252"/>
<rect x="473" y="905" width="4" height="9" fill="#FF5252"/>
<rect x="478" y="905" width="5" height="9" fill="#FFCDD2"/>
<rect x="484" y="905" width="4" height="9" fill="#FFCDD2"/>
<rect x="489" y="905" width="5" height="11" fill="#FF5252"/>
<rect x="495" y="905" width="4" height="14" fill="#FF5252"/>
<rect x="500" y="905" width="5" height="17" fill="#FF5252"/>
<rect x="506" y="905" width="4" height="14" fill="#FFCDD2"/>
<rect x="511" y="905" width="5" height="10" fill="#FFCDD2"/>
<rect x="517" y="905" width="4" height="8" fill="#FFCDD2"/>
<rect x="522" y="905" width="5" height="7" fill="#FFCDD2"/>
<rect x="528" y="905" width="4" height="5" fill="#FFCDD2"/>
<rect x="533" y="905" width="5" height="4" fill="#FFCDD2"/>
<rect x="539" y="905" width="4" height="1" fill="#FFCDD2"/>
<rect x="544" y="905" width="4" height="1" fill="#26A69A"/>
<rect x="549" y="905" width="5" height="1" fill="#FF5252"/>
<rect x="555" y="902" width="4" height="4" fill="#26A69A"/>
<rect x="560" y="900" width="5" height="6" fill="#26A69A"/>
<rect x="566" y="901" width="4" height="5" fill="#B2DFDB"/>
<rect x="571" y="901" width="5" height="5" fill="#B2DFDB"/>
<rect x="577" y="900" width="4" height="6" fill="#26A69A"/>
<rect x="582" y="901" width="5" height="5" fill="#B2DFDB"/>
<rect x="588" y="900" width="4" height="6" fill="#26A69A"/>
<rect x="593" y="896" width="5" height="10" fill="#26A69A"/>
<rect x="599" y="890" width="4" height="16" fill="#26A69A"/>
<rect x="604" y="887" width="5" height="19" fill="#26A69A"/>
<rect x="610" y="887" width="4" height="19" fill="#26A69A"/>
<rect x="615" y="887" width="4" height="19" fill="#B2DFDB"/>
<rect x="620" y="888" width="5" height="18" fill="#B2DFDB"/>
<rect x="626" y="886" width="4" height="20" fill="#26A69A"/>
<rect x="631" y="882" width="5" height="24" fill="#26A69A"/>
<rect x="637" y="878" width="4" height="28" fill="#26A69A"/>
<rect x="642" y="876" width="5" height="30" fill="#26A69A"/>
<rect x="648" y="876" width="4" height="30" fill="#26A69A"/>
<rect x="653" y="875" width="5" height="31" fill="#26A69A"/>
<rect x="659" y="876" width="4" height="30" fill="#B2DFDB"/>
<rect x="664" y="879" width="5" height="27" fill="#B2DFDB"/>
<rect x="670" y="886" width="4" height="20" fill="#B2DFDB"/>
<rect x="675" y="890" width="5" height="16" fill="#B2DFDB"/>
<rect x="681" y="894" width="4" height="12" fill="#B2DFDB"/>
<rect x="686" y="897" width="5" height="9" fill="#B2DFDB"/>
<rect x="692" y="898" width="4" height="8" fill="#B2DFDB"/>
<rect x="697" y="901" width="4" height="5" fill="#B2DFDB"/>
<rect x="702" y="904" width="5" height="2" fill="#B2DFDB"/>
<rect x="708" y="905" width="4" height="2" fill="#FF5252"/>
<rect x="713" y="905" width="5" height="7" fill="#FF5252"/>
<rect x="719" y="905" width="4" height="15" fill="#FF5252"/>
<rect x="724" y="905" width="5" height="22" fill="#FF5252"/>
<rect x="730" y="905" width="4" height="24" fill="#FF5252"/>
<rect x="735" y="905" width="5" height="20" fill="#FFCDD2"/>
<rect x="741" y="905" width="4" height="19" fill="#FFCDD2"/>
<rect x="746" y="905" width="5" height="17" fill="#FFCDD2"/>
<rect x="752" y="905" width="4" height="10" fill="#FFCDD2"/>
<rect x="757" y="905" width="5" height="4" fill="#FFCDD2"/>
<rect x="763" y="900" width="4" height="6" fill="#26A69A"/>
<rect x="768" y="896" width="4" height="10" fill="#26A69A"/>
<rect x="773" y="894" width="5" height="12" fill="#26A69A"/>
<rect x="779" y="887" width="4" height="19" fill="#26A69A"/>
<rect x="784" y="881" width="5" height="25" fill="#26A69A"/>
<rect x="790" y="883" width="4" height="23" fill="#B2DFDB"/>
<rect x="795" y="889" width="5" height="17" fill="#B2DFDB"/>
<rect x="801" y="894" width="4" height="12" fill="#B2DFDB"/>
<rect x="806" y="898" width="5" height="8" fill="#B2DFDB"/>
<rect x="812" y="905" width="4" height="1" fill="#B2DFDB"/>
<rect x="817" y="905" width="5" height="10" fill="#FF5252"/>
<rect x="823" y="905" width="4" height="12" fill="#FF5252"/>
<rect x="828" y="905" width="5" height="15" fill="#FF5252"/>
<rect x="834" y="905" width="4" height="4" fill="#FFCDD2"/>
<rect x="839" y="904" width="4" height="2" fill="#26A69A"/>
<rect x="844" y="902" width="5" height="4" fill="#26A69A"/>
<rect x="850" y="905" width="4" height="5" fill="#FF5252"/>
<rect x="855" y="905" width="5" height="5" fill="#FF5252"/>
<rect x="861" y="905" width="4" height="8" fill="#FF5252"/>
<rect x="866" y="905" width="5" height="10" fill="#FF5252"/>
<rect x="872" y="905" width="4" height="15" fill="#FF5252"/>
<rect x="877" y="905" width="5" height="18" fill="#FF5252"/>
<rect x="883" y="905" width="4" height="19" fill="#FF5252"/>
<rect x="888" y="905" width="5" height="20" fill="#FF5252"/>
<rect x="894" y="905" width="4" height="21" fill="#FF5252"/>
<rect x="899" y="905" width="5" height="18" fill="#FFCDD2"/>
<rect x="905" y="905" width="4" height="19" fill="#FF5252"/>
<rect x="910" y="905" width="5" height="19" fill="#FFCDD2"/>
<rect x="916" y="905" width="4" height="19" fill="#FF5252"/>
<rect x="921" y="905" width="4" height="17" fill="#FFCDD2"/>
<rect x="926" y="905" width="5" height="16" fill="#FFCDD2"/>
<rect x="932" y="905" width="4" height="14" fill="#FFCDD2"/>
<rect x="937" y="905" width="5" height="12" fill="#FFCDD2"/>
<rect x="943" y="905" width="4" height="8" fill="#FFCDD2"/>
<rect x="948" y="904" width="5" height="2" fill="#26A69A"/>
<rect x="954" y="901" width="4" height="5" fill="#26A69A"/>
<rect x="959" y="900" width="5" height="6" fill="#26A69A"/>
<rect x="965" y="902" width="4" height="4" fill="#B2DFDB"/>
<rect x="970" y="904" width="5" height="2" fill="#B2DFDB"/>
<rect x="976" y="903" width="4" height="3" fill="#26A69A"/>
<rect x="981" y="903" width="5" height="3" fill="#B2DFDB"/>
<rect x="987" y="905" width="4" height="1" fill="#FF5252"/>
<rect x="992" y="905" width="4" height="3" fill="#FF5252"/>
<rect x="997" y="905" width="5" height="5" fill="#FF5252"/>
<rect x="1003" y="905" width="4" height="11" fill="#FF5252"/>
<rect x="1008" y="905" width="5" height="16" fill="#FF5252"/>
<rect x="1014" y="905" width="4" height="18" fill="#FF5252"/>
<rect x="1019" y="905" width="5" height="25" fill="#FF5252"/>
<rect x="1025" y="905" width="4" height="24" fill="#FFCDD2"/>
<rect x="1030" y="905" width="5" height="23" fill="#FFCDD2"/>
<rect x="1036" y="905" width="4" height="18" fill="#FFCDD2"/>
<rect x="1041" y="905" width="5" height="13" fill="#FFCDD2"/>
<rect x="1047" y="905" width="4" height="10" fill="#FFCDD2"/>
<rect x="1052" y="905" width="5" height="3" fill="#FFCDD2"/>
<rect x="1058" y="901" width="4" height="5" fill="#26A69A"/>
<rect x="1063" y="896" width="5" height="10" fill="#26A69A"/>
<rect x="1069" y="893" width="4" height="13" fill="#26A69A"/>
<rect x="1074" y="892" width="4" height="14" fill="#26A69A"/>
<rect x="1079" y="888" width="5" height="18" fill="#26A69A"/>
<rect x="1085" y="891" width="4" height="15" fill="#B2DFDB"/>
<rect x="1090" y="893" width="5" height="13" fill="#B2DFDB"/>
<rect x="1096" y="898" width="4" height="8" fill="#B2DFDB"/>
<rect x="1101" y="905" width="5" height="7" fill="#FF5252"/>
<rect x="1107" y="905" width="4" height="18" fill="#FF5252"/>
<rect x="1112" y="905" width="5" height="15" fill="#FFCDD2"/>
<rect x="1118" y="905" width="4" height="11" fill="#FFCDD2"/>
<rect x="1123" y="905" width="5" height="10" fill="#FFCDD2"/>
<rect x="1129" y="905" width="4" height="12" fill="#FF5252"/>
<rect x="1134" y="905" width="5" height="14" fill="#FF5252"/>
<rect x="1140" y="905" width="4" height="16" fill="#FF5252"/>
<rect x="1145" y="905" width="4" height="15" fill="#FFCDD2"/>
<rect x="1150" y="905" width="5" height="11" fill="#FFCDD2"/>
<rect x="1156" y="905" width="4" height="8" fill="#FFCDD2"/>
<rect x="1161" y="905" width="5" height="8" fill="#FFCDD2"/>
<rect x="1167" y="905" width="4" height="9" fill="#FF5252"/>
<rect x="1172" y="905" width="5" height="7" fill="#FFCDD2"/>
<rect x="1178" y="905" width="4" height="4" fill="#FFCDD2"/>
<rect x="1183" y="905" width="5" height="1" fill="#FFCDD2"/>
<rect x="1189" y="899" width="4" height="7" fill="#26A69A"/>
<rect x="1194" y="896" width="5" height="10" fill="#26A69A"/>
<rect x="1200" y="897" width="4" height="9" fill="#B2DFDB"/>
<rect x="1205" y="900" width="5" height="6" fill="#B2DFDB"/>
<rect x="1211" y="904" width="4" height="2" fill="#B2DFDB"/>
<rect x="1216" y="905" width="5" height="1" fill="#B2DFDB"/>
<rect x="1222" y="905" width="4" height="1" fill="#26A69A"/>
<rect x="1227" y="904" width="4" height="2" fill="#26A69A"/>
<rect x="1232" y="905" width="5" height="4" fill="#FF5252"/>
<rect x="1238" y="905" width="4" height="14" fill="#FF5252"/>
<rect x="1243" y="905" width="5" height="17" fill="#FF5252"/>
<rect x="1249" y="905" width="4" height="19" fill="#FF5252"/>
<rect x="1254" y="905" width="5" height="17" fill="#FFCDD2"/>
<rect x="1260" y="905" width="4" height="15" fill="#FFCDD2"/>
<rect x="1265" y="905" width="5" height="9" fill="#FFCDD2"/>
<rect x="1271" y="905" width="4" height="4" fill="#FFCDD2"/>
<rect x="1276" y="905" width="5" height="4" fill="#FFCDD2"/>
<rect x="1282" y="905" width="4" height="3" fill="#FFCDD2"/>
<rect x="1287" y="905" width="5" height="6" fill="#FF5252"/>
<rect x="1293" y="905" width="4" height="9" fill="#FF5252"/>
<rect x="1298" y="905" width="4" height="9" fill="#FFCDD2"/>
<rect x="1303" y="905" width="5" height="10" fill="#FF5252"/>
<rect x="1309" y="905" width="4" height="10" fill="#FF5252"/>
<rect x="1314" y="905" width="5" height="8" fill="#FFCDD2"/>
<rect x="1320" y="905" width="4" height="7" fill="#FFCDD2"/>
<rect x="1325" y="905" width="5" height="10" fill="#FF5252"/>
<rect x="1331" y="905" width="4" height="12" fill="#FF5252"/>
<rect x="1336" y="905" width="5" height="12" fill="#FFCDD2"/>
<rect x="1342" y="905" width="4" height="10" fill="#FFCDD2"/>
<rect x="1347" y="905" width="5" height="4" fill="#FFCDD2"/>
<rect x="1353" y="904" width="4" height="2" fill="#26A69A"/>
<rect x="1358" y="899" width="5" height="7" fill="#26A69A"/>
<rect x="1364" y="896" width="4" height="10" fill="#26A69A"/>
<rect x="1369" y="894" width="5" height="12" fill="#26A69A"/>
<rect x="1375" y="893" width="4" height="13" fill="#26A69A"/>
<rect x="1380" y="892" width="4" height="14" fill="#26A69A"/>
<rect x="1385" y="896" width="5" height="10" fill="#B2DFDB"/>
<rect x="1391" y="894" width="4" height="12" fill="#26A69A"/>
<rect x="1396" y="889" width="5" height="17" fill="#26A69A"/>
<rect x="1402" y="887" width="4" height="19" fill="#26A69A"/>
<rect x="1407" y="889" width="5" height="17" fill="#B2DFDB"/>
<rect x="1413" y="890" width="4" height="16" fill="#B2DFDB"/>
<rect x="1418" y="891" width="5" height="15" fill="#B2DFDB"/>
<rect x="1424" y="890" width="4" height="16" fill="#26A69A"/>
<rect x="1429" y="886" width="5" height="20" fill="#26A69A"/>
<rect x="1435" y="884" width="4" height="22" fill="#26A69A"/>
<rect x="1440" y="886" width="5" height="20" fill="#B2DFDB"/>
<rect x="1446" y="891" width="4" height="15" fill="#B2DFDB"/>
<rect x="1451" y="894" width="4" height="12" fill="#B2DFDB"/>
<rect x="1456" y="897" width="5" height="9" fill="#B2DFDB"/>
<rect x="1462" y="902" width="4" height="4" fill="#B2DFDB"/>
<rect x="1467" y="905" width="5" height="1" fill="#B2DFDB"/>
<rect x="1473" y="905" width="4" height="5" fill="#FF5252"/>
<rect x="1478" y="905" width="5" height="7" fill="#FF5252"/>
<rect x="1484" y="905" width="4" height="5" fill="#FFCDD2"/>
<rect x="1489" y="905" width="5" height="3" fill="#FFCDD2"/>
<rect x="1495" y="905" width="4" height="1" fill="#FFCDD2"/>
<rect x="1500" y="905" width="5" height="1" fill="#26A69A"/>
<rect x="1506" y="905" width="4" height="1" fill="#26A69A"/>
<rect x="1511" y="905" width="5" height="1" fill="#B2DFDB"/>
<rect x="1517" y="905" width="4" height="1" fill="#FF5252"/>
<rect x="1522" y="905" width="4" height="1" fill="#FFCDD2"/>
<rect x="1527" y="905" width="5" height="1" fill="#26A69A"/>
<rect x="1533" y="904" width="4" height="2" fill="#26A69A"/>
<rect x="1538" y="904" width="5" height="2" fill="#26A69A"/>
<rect x="1544" y="903" width="4" height="3" fill="#26A69A"/>
<rect x="1549" y="903" width="5" height="3" fill="#26A69A"/>
<rect x="1555" y="901" width="4" height="5" fill="#26A69A"/>
<rect x="1560" y="898" width="5" height="8" fill="#26A69A"/>
<rect x="1566" y="896" width="4" height="10" fill="#26A69A"/>
<rect x="1571" y="895" width="5" height="11" fill="#26A69A"/>
<rect x="1577" y="893" width="4" height="13" fill="#26A69A"/>
<rect x="1582" y="891" width="5" height="15" fill="#26A69A"/>
<rect x="1588" y="893" width="4" height="13" fill="#B2DFDB"/>
<rect x="1593" y="897" width="5" height="9" fill="#B2DFDB"/>
<rect x="1599" y="900" width="4" height="6" fill="#B2DFDB"/>
<rect x="1604" y="902" width="4" height="4" fill="#B2DFDB"/>
<rect x="1609" y="903" width="5" height="3" fill="#B2DFDB"/>
<rect x="1615" y="904" width="4" height="2" fill="#B2DFDB"/>
<rect x="1620" y="900" width="5" height="6" fill="#26A69A"/>
<rect x="1626" y="897" width="4" height="9" fill="#26A69A"/>
<rect x="1631" y="897" width="5" height="9" fill="#26A69A"/>
<rect x="1637" y="898" width="4" height="8" fill="#B2DFDB"/>
<rect x="1642" y="898" width="5" height="8" fill="#B2DFDB"/>
<rect x="1648" y="900" width="4" height="6" fill="#B2DFDB"/>
<rect x="1653" y="903" width="5" height="3" fill="#B2DFDB"/>
<rect x="1659" y="905" width="4" height="6" fill="#FF5252"/>
<rect x="1664" y="905" width="5" height="10" fill="#FF5252"/>
<rect x="1670" y="905" width="4" height="13" fill="#FF5252"/>
<rect x="1675" y="905" width="4" height="13" fill="#FF5252"/>
<rect x="1680" y="905" width="5" height="14" fill="#FF5252"/>
<rect x="1686" y="905" width="4" height="16" fill="#FF5252"/>
<rect x="1691" y="905" width="5" height="14" fill="#FFCDD2"/>
<rect x="1697" y="905" width="4" height="10" fill="#FFCDD2"/>
<rect x="1702" y="905" width="5" height="8" fill="#FFCDD2"/>
<rect x="1708" y="905" width="4" height="10" fill="#FF5252"/>
<rect x="1713" y="905" width="5" height="13" fill="#FF5252"/>
<rect x="1719" y="905" width="4" height="19" fill="#FF5252"/>
<rect x="1724" y="905" width="5" height="26" fill="#FF5252"/>
<rect x="1730" y="905" width="4" height="27" fill="#FF5252"/>
<rect x="1735" y="905" width="5" height="28" fill="#FF5252"/>
<rect x="1741" y="905" width="4" height="29" fill="#FF5252"/>
<rect x="1746" y="905" width="5" height="35" fill="#FF5252"/>
<rect x="1752" y="905" width="4" height="31" fill="#FFCDD2"/>
<rect x="1757" y="905" width="4" height="26" fill="#FFCDD2"/>
<rect x="1762" y="905" width="5" height="21" fill="#FFCDD2"/>
<rect x="1768" y="905" width="4" height="15" fill="#FFCDD2"/>
<rect x="1773" y="905" width="5" height="12" fill="#FFCDD2"/>
<rect x="1779" y="905" width="4" height="11" fill="#FFCDD2"/>
<rect x="1784" y="905" width="5" height="8" fill="#FFCDD2"/>
<rect x="1790" y="905" width="4" height="3" fill="#FFCDD2"/>
<rect x="1795" y="904" width="5" height="2" fill="#26A69A"/>
<rect x="1801" y="902" width="4" height="4" fill="#26A69A"/>
<rect x="1806" y="901" width="5" height="5" fill="#26A69A"/>
<rect x="1812" y="899" width="4" height="7" fill="#26A69A"/>
<rect x="1817" y="898" width="5" height="8" fill="#26A69A"/>
<rect x="1823" y="898" width="4" height="8" fill="#26A69A"/>
<rect x="1828" y="896" width="4" height="10" fill="#26A69A"/>
<rect x="1833" y="895" width="5" height="11" fill="#26A69A"/>
<rect x="1839" y="895" width="4" height="11" fill="#26A69A"/>
<rect x="1844" y="897" width="5" height="9" fill="#B2DFDB"/>
<rect x="1850" y="899" width="4" height="7" fill="#B2DFDB"/>
</g>
<line x1="16" y1="905.5" x2="2000" y2="905.5" stroke="#A6A8AE" stroke-width="1" stroke-dasharray="5 6" stroke-dashoffset="1" shape-rendering="crispEdges"/>
<polyline points="11.5,939.3 16.9,936.9 22.4,934.5 27.9,932.6 33.3,933.5 38.8,935.7 44.3,937.6 49.7,938.3 55.2,936.2 60.7,937.3 66.1,937.1 71.6,936.7 77.0,936.4 82.5,941.7 88.0,946.3 93.4,951.4 98.9,949.6 104.4,951.7 109.8,951.5 115.3,948.8 120.8,947.6 126.2,945.2 131.7,944.0 137.2,942.8 142.6,941.4 148.1,939.6 153.5,937.2 159.0,935.8 164.5,934.5 169.9,928.2 175.4,922.1 180.9,917.9 186.3,913.9 191.8,909.7 197.3,907.3 202.7,905.1 208.2,903.5 213.6,902.3 219.1,900.1 224.6,898.4 230.0,897.6 235.5,897.5 241.0,897.2 246.4,897.1 251.9,897.6 257.4,887.3 262.8,875.7 268.3,860.5 273.8,851.2 279.2,845.0 284.7,835.7 290.1,831.2 295.6,830.2 301.1,830.6 306.5,833.4 312.0,835.8 317.5,837.7 322.9,840.0 328.4,841.7 333.9,840.8 339.3,844.7 344.8,848.1 350.2,850.9 355.7,853.4 361.2,853.4 366.6,853.4 372.1,855.4 377.6,860.2 383.0,864.6 388.5,868.0 394.0,869.3 399.4,871.3 404.9,872.8 410.4,879.4 415.8,883.2 421.3,885.2 426.7,887.5 432.2,885.0 437.7,879.4 443.1,876.6 448.6,878.3 454.1,881.6 459.5,885.8 465.0,888.7 470.5,891.3 475.9,894.6 481.4,896.6 486.8,898.5 492.3,903.2 497.8,909.9 503.2,916.9 508.7,917.1 514.2,916.2 519.6,916.3 525.1,916.4 530.6,916.0 536.0,915.3 541.5,912.7 547.0,911.3 552.4,912.2 557.9,908.3 563.3,904.6 568.8,904.1 574.3,903.4 579.7,901.4 585.2,900.9 590.7,898.3 596.1,892.2 601.6,882.8 607.1,875.5 612.5,870.7 618.0,866.5 623.4,862.4 628.9,856.3 634.4,845.9 639.8,835.7 645.3,826.5 650.8,819.0 656.2,809.8 661.7,803.5 667.2,800.2 672.6,802.0 678.1,802.4 683.6,803.5 689.0,805.0 694.5,803.8 699.9,806.1 705.4,809.1 710.9,812.2 716.3,818.8 721.8,830.4 727.3,842.9 732.7,850.5 738.2,851.3 743.7,855.3 749.1,857.1 754.6,853.0 760.0,847.7 765.5,837.5 771.0,830.6 776.4,826.8 781.9,814.8 787.4,802.5 792.8,799.2 798.3,800.7 803.8,803.4 809.2,805.3 814.7,812.4 820.2,825.3 825.6,829.3 831.1,836.4 836.5,826.6 842.0,821.3 847.5,817.8 852.9,827.0 858.4,829.0 863.9,834.1 869.3,838.6 874.8,847.1 880.3,853.9 885.7,859.3 891.2,866.2 896.6,871.8 902.1,873.0 907.6,878.7 913.0,883.0 918.5,887.6 924.0,890.6 929.4,892.9 934.9,894.9 940.4,895.6 945.8,893.2 951.3,884.7 956.8,879.6 962.2,877.5 967.7,878.3 973.1,880.0 978.6,879.1 984.1,878.9 989.5,882.1 995.0,884.5 1000.5,887.6 1005.9,896.8 1011.4,905.0 1016.9,911.8 1022.3,924.5 1027.8,930.0 1033.2,934.4 1038.7,934.1 1044.2,931.6 1049.6,931.3 1055.1,925.4 1060.6,916.9 1066.0,909.3 1071.5,904.1 1077.0,899.2 1082.4,890.8 1087.9,890.8 1093.4,889.0 1098.8,891.9 1104.3,908.5 1109.7,923.8 1115.2,924.7 1120.7,922.9 1126.1,924.3 1131.6,929.0 1137.1,934.9 1142.5,940.8 1148.0,943.4 1153.5,942.6 1158.9,941.7 1164.4,943.4 1169.8,946.0 1175.3,946.2 1180.8,943.8 1186.2,941.1 1191.7,933.0 1197.2,927.6 1202.6,926.7 1208.1,927.8 1213.6,931.1 1219.0,932.2 1224.5,932.0 1230.0,930.5 1235.4,937.4 1240.9,950.9 1246.3,957.2 1251.8,964.5 1257.3,966.4 1262.7,968.0 1268.2,963.7 1273.7,960.1 1279.1,960.8 1284.6,960.7 1290.1,964.9 1295.5,970.6 1301.0,972.8 1306.4,975.6 1311.9,978.9 1317.4,978.1 1322.8,979.5 1328.3,984.6 1333.8,989.5 1339.2,992.3 1344.7,992.6 1350.2,987.9 1355.6,983.0 1361.1,976.5 1366.6,971.0 1372.0,965.4 1377.5,961.5 1382.9,957.6 1388.4,959.3 1393.9,954.6 1399.3,945.3 1404.8,939.2 1410.3,936.9 1415.7,934.3 1421.2,931.3 1426.7,927.0 1432.1,918.1 1437.6,910.9 1443.0,907.5 1448.5,908.9 1454.0,909.1 1459.4,910.8 1464.9,914.6 1470.4,917.5 1475.8,923.0 1481.3,927.3 1486.8,926.3 1492.2,925.4 1497.7,923.7 1503.2,922.1 1508.6,921.9 1514.1,922.0 1519.5,923.1 1525.0,923.1 1530.5,922.2 1535.9,921.4 1541.4,920.9 1546.9,919.4 1552.3,918.2 1557.8,916.0 1563.3,911.1 1568.7,907.0 1574.2,903.3 1579.6,898.3 1585.1,892.5 1590.6,891.7 1596.0,892.9 1601.5,894.6 1607.0,896.0 1612.4,896.1 1617.9,897.1 1623.4,891.7 1628.8,886.9 1634.3,884.3 1639.8,883.1 1645.2,882.1 1650.7,882.4 1656.1,885.4 1661.6,894.7 1667.1,900.7 1672.5,906.5 1678.0,910.7 1683.5,914.1 1688.9,920.4 1694.4,921.9 1699.9,920.5 1705.3,919.8 1710.8,924.0 1716.2,930.1 1721.7,941.4 1727.2,954.7 1732.6,962.4 1738.1,970.9 1743.6,979.1 1749.0,993.2 1754.5,996.9 1760.0,998.1 1765.4,998.0 1770.9,996.4 1776.4,996.4 1781.8,997.5 1787.3,997.1 1792.7,993.0 1798.2,987.8 1803.7,985.9 1809.1,982.8 1814.6,979.6 1820.1,977.2 1825.5,974.5 1831.0,971.2 1836.5,967.7 1841.9,964.7 1847.4,964.5 1852.8,964.5" fill="none" stroke="#2962FF" stroke-width="1.6" stroke-linejoin="round" stroke-linecap="round" clip-path="url(#pane)"/>
<polyline points="11.5,954.5 16.9,951.2 22.4,947.9 27.9,944.8 33.3,942.5 38.8,941.2 44.3,940.5 49.7,940.0 55.2,939.3 60.7,938.9 66.1,938.5 71.6,938.2 77.0,937.8 82.5,938.6 88.0,940.1 93.4,942.4 98.9,943.8 104.4,945.4 109.8,946.6 115.3,947.1 120.8,947.2 126.2,946.8 131.7,946.2 137.2,945.5 142.6,944.7 148.1,943.7 153.5,942.4 159.0,941.1 164.5,939.7 169.9,937.4 175.4,934.4 180.9,931.1 186.3,927.6 191.8,924.0 197.3,920.7 202.7,917.6 208.2,914.8 213.6,912.3 219.1,909.8 224.6,907.5 230.0,905.6 235.5,903.9 241.0,902.6 246.4,901.5 251.9,900.7 257.4,898.0 262.8,893.6 268.3,887.0 273.8,879.8 279.2,872.8 284.7,865.4 290.1,858.6 295.6,852.9 301.1,848.5 306.5,845.4 312.0,843.5 317.5,842.3 322.9,841.9 328.4,841.8 333.9,841.6 339.3,842.2 344.8,843.4 350.2,844.9 355.7,846.6 361.2,848.0 366.6,849.0 372.1,850.3 377.6,852.3 383.0,854.8 388.5,857.4 394.0,859.8 399.4,862.1 404.9,864.2 410.4,867.3 415.8,870.4 421.3,873.4 426.7,876.2 432.2,878.0 437.7,878.3 443.1,877.9 448.6,878.0 454.1,878.7 459.5,880.1 465.0,881.8 470.5,883.7 475.9,885.9 481.4,888.1 486.8,890.1 492.3,892.8 497.8,896.2 503.2,900.3 508.7,903.7 514.2,906.2 519.6,908.2 525.1,909.9 530.6,911.1 536.0,911.9 541.5,912.1 547.0,911.9 552.4,912.0 557.9,911.2 563.3,909.9 568.8,908.8 574.3,907.7 579.7,906.4 585.2,905.3 590.7,903.9 596.1,901.6 601.6,897.8 607.1,893.4 612.5,888.8 618.0,884.3 623.4,880.0 628.9,875.2 634.4,869.4 639.8,862.6 645.3,855.4 650.8,848.1 656.2,840.4 661.7,833.1 667.2,826.5 672.6,821.6 678.1,817.8 683.6,814.9 689.0,812.9 694.5,811.1 699.9,810.1 705.4,809.9 710.9,810.4 716.3,812.0 721.8,815.7 727.3,821.2 732.7,827.0 738.2,831.9 743.7,836.6 749.1,840.7 754.6,843.1 760.0,844.1 765.5,842.7 771.0,840.3 776.4,837.6 781.9,833.0 787.4,826.9 792.8,821.4 798.3,817.2 803.8,814.5 809.2,812.7 814.7,812.6 820.2,815.1 825.6,818.0 831.1,821.7 836.5,822.7 842.0,822.4 847.5,821.5 852.9,822.6 858.4,823.9 863.9,825.9 869.3,828.5 874.8,832.2 880.3,836.5 885.7,841.1 891.2,846.1 896.6,851.2 902.1,855.6 907.6,860.2 913.0,864.8 918.5,869.3 924.0,873.6 929.4,877.5 934.9,881.0 940.4,883.9 945.8,885.7 951.3,885.5 956.8,884.3 962.2,883.0 967.7,882.0 973.1,881.6 978.6,881.1 984.1,880.7 989.5,881.0 995.0,881.7 1000.5,882.8 1005.9,885.6 1011.4,889.5 1016.9,894.0 1022.3,900.1 1027.8,906.1 1033.2,911.7 1038.7,916.2 1044.2,919.3 1049.6,921.7 1055.1,922.4 1060.6,921.3 1066.0,918.9 1071.5,916.0 1077.0,912.6 1082.4,908.2 1087.9,904.8 1093.4,901.6 1098.8,899.7 1104.3,901.4 1109.7,905.9 1115.2,909.7 1120.7,912.3 1126.1,914.7 1131.6,917.6 1137.1,921.0 1142.5,925.0 1148.0,928.7 1153.5,931.4 1158.9,933.5 1164.4,935.5 1169.8,937.6 1175.3,939.3 1180.8,940.2 1186.2,940.4 1191.7,938.9 1197.2,936.6 1202.6,934.7 1208.1,933.3 1213.6,932.9 1219.0,932.7 1224.5,932.6 1230.0,932.2 1235.4,933.2 1240.9,936.7 1246.3,940.8 1251.8,945.6 1257.3,949.7 1262.7,953.4 1268.2,955.4 1273.7,956.4 1279.1,957.3 1284.6,957.9 1290.1,959.3 1295.5,961.6 1301.0,963.8 1306.4,966.2 1311.9,968.7 1317.4,970.6 1322.8,972.4 1328.3,974.8 1333.8,977.8 1339.2,980.7 1344.7,983.1 1350.2,984.0 1355.6,983.8 1361.1,982.4 1366.6,980.1 1372.0,977.2 1377.5,974.0 1382.9,970.7 1388.4,968.5 1393.9,965.7 1399.3,961.6 1404.8,957.1 1410.3,953.1 1415.7,949.3 1421.2,945.7 1426.7,942.0 1432.1,937.2 1437.6,931.9 1443.0,927.0 1448.5,923.4 1454.0,920.5 1459.4,918.6 1464.9,917.8 1470.4,917.7 1475.8,918.8 1481.3,920.5 1486.8,921.6 1492.2,922.4 1497.7,922.6 1503.2,922.5 1508.6,922.4 1514.1,922.3 1519.5,922.5 1525.0,922.6 1530.5,922.5 1535.9,922.3 1541.4,922.0 1546.9,921.5 1552.3,920.8 1557.8,919.9 1563.3,918.1 1568.7,915.9 1574.2,913.4 1579.6,910.4 1585.1,906.8 1590.6,903.8 1596.0,901.6 1601.5,900.2 1607.0,899.4 1612.4,898.7 1617.9,898.4 1623.4,897.0 1628.8,895.0 1634.3,892.9 1639.8,890.9 1645.2,889.2 1650.7,887.8 1656.1,887.3 1661.6,888.8 1667.1,891.2 1672.5,894.2 1678.0,897.5 1683.5,900.9 1688.9,904.8 1694.4,908.2 1699.9,910.7 1705.3,912.5 1710.8,914.8 1716.2,917.9 1721.7,922.6 1727.2,929.0 1732.6,935.7 1738.1,942.7 1743.6,950.0 1749.0,958.6 1754.5,966.3 1760.0,972.6 1765.4,977.7 1770.9,981.4 1776.4,984.4 1781.8,987.1 1787.3,989.1 1792.7,989.9 1798.2,989.4 1803.7,988.7 1809.1,987.5 1814.6,986.0 1820.1,984.2 1825.5,982.3 1831.0,980.1 1836.5,977.6 1841.9,975.0 1847.4,972.9 1852.8,971.2" fill="none" stroke="#FF6D00" stroke-width="1.6" stroke-linejoin="round" stroke-linecap="round" clip-path="url(#pane)"/>
<text x="2013.54" y="134.5" font-family="Liberation Sans, sans-serif" font-size="18" font-weight="normal" fill="#131722" text-anchor="start" textLength="70.69" lengthAdjust="spacingAndGlyphs" stroke="#131722" stroke-width="0.5">4,800.00</text>
<text x="2013.54" y="205.5" font-family="Liberation Sans, sans-serif" font-size="18" font-weight="normal" fill="#131722" text-anchor="start" textLength="70.69" lengthAdjust="spacingAndGlyphs" stroke="#131722" stroke-width="0.5">4,400.00</text>
<text x="2013.54" y="276.5" font-family="Liberation Sans, sans-serif" font-size="18" font-weight="normal" fill="#131722" text-anchor="start" textLength="70.69" lengthAdjust="spacingAndGlyphs" stroke="#131722" stroke-width="0.5">4,000.00</text>
<text x="2013.54" y="347.5" font-family="Liberation Sans, sans-serif" font-size="18" font-weight="normal" fill="#131722" text-anchor="start" textLength="70.69" lengthAdjust="spacingAndGlyphs" stroke="#131722" stroke-width="0.5">3,600.00</text>
<text x="2013.54" y="418.5" font-family="Liberation Sans, sans-serif" font-size="18" font-weight="normal" fill="#131722" text-anchor="start" textLength="70.69" lengthAdjust="spacingAndGlyphs" stroke="#131722" stroke-width="0.5">3,200.00</text>
<text x="2013.54" y="560.5" font-family="Liberation Sans, sans-serif" font-size="18" font-weight="normal" fill="#131722" text-anchor="start" textLength="70.69" lengthAdjust="spacingAndGlyphs" stroke="#131722" stroke-width="0.5">2,400.00</text>
<text x="2013.54" y="631.5" font-family="Liberation Sans, sans-serif" font-size="18" font-weight="normal" fill="#131722" text-anchor="start" textLength="70.69" lengthAdjust="spacingAndGlyphs" stroke="#131722" stroke-width="0.5">2,000.00</text>
<clipPath id="c12"><rect x="2000" y="740" width="98" height="33"/></clipPath>
<text x="2013.54" y="773.5" font-family="Liberation Sans, sans-serif" font-size="18" font-weight="normal" fill="#131722" text-anchor="start" textLength="70.69" lengthAdjust="spacingAndGlyphs" stroke="#131722" stroke-width="0.5" clip-path="url(#c12)">1,200.00</text>
<text x="2013.82" y="844.8" font-family="Liberation Sans, sans-serif" font-size="18" font-weight="normal" fill="#131722" text-anchor="start" textLength="53.77" lengthAdjust="spacingAndGlyphs" stroke="#131722" stroke-width="0.5">200.00</text>
<path d="M2001 472H2088a3 3 0 0 1 3 3V496a3 3 0 0 1 -3 3H2001Z" fill="#2962FF"/>
<text x="2013.54" y="491.3" font-family="Liberation Sans, sans-serif" font-size="18" font-weight="normal" fill="#fff" text-anchor="start" textLength="70.69" lengthAdjust="spacingAndGlyphs" stroke="#fff" stroke-width="0.6">2,797.31</text>
<path d="M2001 567H2088a3 3 0 0 1 3 3V591a3 3 0 0 1 -3 3H2001Z" fill="#2962FF"/>
<text x="2013.54" y="586.3" font-family="Liberation Sans, sans-serif" font-size="18" font-weight="normal" fill="#fff" text-anchor="start" textLength="70.69" lengthAdjust="spacingAndGlyphs" stroke="#fff" stroke-width="0.6">2,261.83</text>
<path d="M2001 720H2088a3 3 0 0 1 3 3V744a3 3 0 0 1 -3 3H2001Z" fill="#2962FF"/>
<text x="2013.54" y="739.3" font-family="Liberation Sans, sans-serif" font-size="18" font-weight="normal" fill="#fff" text-anchor="start" textLength="70.69" lengthAdjust="spacingAndGlyphs" stroke="#fff" stroke-width="0.6">1,400.00</text>
<path d="M2001 690H2088a3 3 0 0 1 3 3V714a3 3 0 0 1 -3 3H2001Z" fill="#2962FF"/>
<text x="2013.54" y="709.3" font-family="Liberation Sans, sans-serif" font-size="18" font-weight="normal" fill="#fff" text-anchor="start" textLength="70.69" lengthAdjust="spacingAndGlyphs" stroke="#fff" stroke-width="0.6">1,800.00</text>
<path d="M2001 644H2088a3 3 0 0 1 3 3V689a3 3 0 0 1 -3 3H2001Z" fill="#F23645"/>
<text x="2013.54" y="663.3" font-family="Liberation Sans, sans-serif" font-size="18" font-weight="normal" fill="#fff" text-anchor="start" textLength="70.69" lengthAdjust="spacingAndGlyphs" stroke="#fff" stroke-width="0.6">1,828.92</text>
<text x="2013.54" y="683.5" font-family="Liberation Sans, sans-serif" font-size="18" font-weight="normal" fill="#fff" text-anchor="start" textLength="70.69" lengthAdjust="spacingAndGlyphs" stroke="#fff" stroke-width="0.6" opacity="0.75">16:49:03</text>
<path d="M2001 885H2063a3 3 0 0 1 3 3V909a3 3 0 0 1 -3 3H2001Z" fill="#B2DFDB"/>
<text x="2013.81" y="905" font-family="Liberation Sans, sans-serif" font-size="18" font-weight="normal" fill="#131722" text-anchor="start" textLength="44.58" lengthAdjust="spacingAndGlyphs" stroke="#131722" stroke-width="0.5">20.54</text>
<path d="M2001 951H2082a3 3 0 0 1 3 3V976a1 1 0 0 1 -1 1H2001Z" fill="#2962FF"/>
<text x="2014.3" y="970.5" font-family="Liberation Sans, sans-serif" font-size="18" font-weight="normal" fill="#fff" text-anchor="start" textLength="62.37" lengthAdjust="spacingAndGlyphs" stroke="#fff" stroke-width="0.6">−176.93</text>
<path d="M2001 977H2084a1 1 0 0 1 1 1V1001a3 3 0 0 1 -3 3H2001Z" fill="#FF6D00"/>
<text x="2014.3" y="996.8" font-family="Liberation Sans, sans-serif" font-size="18" font-weight="normal" fill="#fff" text-anchor="start" textLength="62.54" lengthAdjust="spacingAndGlyphs" stroke="#fff" stroke-width="0.6">−197.47</text>
<rect x="2006" y="47" width="86" height="38" rx="6" fill="#fff" stroke="#EFEFF1" stroke-width="2"/>
<text x="2019.88" y="72" font-family="Liberation Sans, sans-serif" font-size="18" font-weight="normal" fill="#131722" text-anchor="start" textLength="31.51" lengthAdjust="spacingAndGlyphs" stroke="#131722" stroke-width="0.5">USD</text>
<text x="41.5" y="1046.8" font-family="Liberation Sans, sans-serif" font-size="18" font-weight="normal" fill="#131722" text-anchor="start" textLength="26.79" lengthAdjust="spacingAndGlyphs" stroke="#131722" stroke-width="0.5">Apr</text>
<text x="202.17" y="1046.8" font-family="Liberation Sans, sans-serif" font-size="18" font-weight="normal" fill="#131722" text-anchor="start" textLength="31.42" lengthAdjust="spacingAndGlyphs" stroke="#131722" stroke-width="0.5">May</text>
<text x="373.83" y="1046.8" font-family="Liberation Sans, sans-serif" font-size="18" font-weight="normal" fill="#131722" text-anchor="start" textLength="29.3" lengthAdjust="spacingAndGlyphs" stroke="#131722" stroke-width="0.5">Jun</text>
<text x="540.31" y="1046.8" font-family="Liberation Sans, sans-serif" font-size="18" font-weight="normal" fill="#131722" text-anchor="start" textLength="24.5" lengthAdjust="spacingAndGlyphs" stroke="#131722" stroke-width="0.5">Jul</text>
<text x="707.1" y="1046.8" font-family="Liberation Sans, sans-serif" font-size="18" font-weight="normal" fill="#131722" text-anchor="start" textLength="29.59" lengthAdjust="spacingAndGlyphs" stroke="#131722" stroke-width="0.5">Aug</text>
<text x="875.95" y="1046.8" font-family="Liberation Sans, sans-serif" font-size="18" font-weight="normal" fill="#131722" text-anchor="start" textLength="29.5" lengthAdjust="spacingAndGlyphs" stroke="#131722" stroke-width="0.5">Sep</text>
<text x="1040.09" y="1046.8" font-family="Liberation Sans, sans-serif" font-size="18" font-weight="normal" fill="#131722" text-anchor="start" textLength="27.91" lengthAdjust="spacingAndGlyphs" stroke="#131722" stroke-width="0.5">Oct</text>
<text x="1208.12" y="1046.8" font-family="Liberation Sans, sans-serif" font-size="18" font-weight="normal" fill="#131722" text-anchor="start" textLength="30.64" lengthAdjust="spacingAndGlyphs" stroke="#131722" stroke-width="0.5">Nov</text>
<text x="1372.53" y="1046.8" font-family="Liberation Sans, sans-serif" font-size="18" font-weight="normal" fill="#131722" text-anchor="start" textLength="30.36" lengthAdjust="spacingAndGlyphs" stroke="#131722" stroke-width="0.5">Dec</text>
<text x="1536.44" y="1046.8" font-family="Liberation Sans, sans-serif" font-size="18" font-weight="bold" fill="#131722" text-anchor="start" textLength="42.22" lengthAdjust="spacingAndGlyphs">2026</text>
<text x="1711.7" y="1046.8" font-family="Liberation Sans, sans-serif" font-size="18" font-weight="normal" fill="#131722" text-anchor="start" textLength="30.26" lengthAdjust="spacingAndGlyphs" stroke="#131722" stroke-width="0.5">Feb</text>
<text x="1863.93" y="1046.8" font-family="Liberation Sans, sans-serif" font-size="18" font-weight="normal" fill="#131722" text-anchor="start" textLength="29.58" lengthAdjust="spacingAndGlyphs" stroke="#131722" stroke-width="0.5">Mar</text>
<text x="14.87" y="28.9" font-family="Liberation Sans, sans-serif" font-size="17.2" font-weight="normal" fill="#131722" text-anchor="start" textLength="122.78" lengthAdjust="spacingAndGlyphs" stroke="#131722" stroke-width="0.5">ChamiCrypto78</text>
<text x="143.16" y="28.9" font-family="Liberation Sans, sans-serif" font-size="17.2" font-weight="normal" fill="#131722" text-anchor="start" textLength="61.97" lengthAdjust="spacingAndGlyphs" stroke="#131722" stroke-width="0.5">created</text>
<text x="212.0" y="28.9" font-family="Liberation Sans, sans-serif" font-size="17.2" font-weight="normal" fill="#131722" text-anchor="start" textLength="34.84" lengthAdjust="spacingAndGlyphs" stroke="#131722" stroke-width="0.5">with</text>
<text x="252.54" y="28.9" font-family="Liberation Sans, sans-serif" font-size="17.2" font-weight="normal" fill="#131722" text-anchor="start" textLength="141.03" lengthAdjust="spacingAndGlyphs" stroke="#131722" stroke-width="0.5">TradingView.com,</text>
<text x="399.16" y="28.9" font-family="Liberation Sans, sans-serif" font-size="17.2" font-weight="normal" fill="#131722" text-anchor="start" textLength="28.76" lengthAdjust="spacingAndGlyphs" stroke="#131722" stroke-width="0.5">Feb</text>
<text x="434.86" y="28.9" font-family="Liberation Sans, sans-serif" font-size="17.2" font-weight="normal" fill="#131722" text-anchor="start" textLength="23.35" lengthAdjust="spacingAndGlyphs" stroke="#131722" stroke-width="0.5">24,</text>
<text x="464.34" y="28.9" font-family="Liberation Sans, sans-serif" font-size="17.2" font-weight="normal" fill="#131722" text-anchor="start" textLength="38.45" lengthAdjust="spacingAndGlyphs" stroke="#131722" stroke-width="0.5">2026</text>
<text x="508.29" y="28.9" font-family="Liberation Sans, sans-serif" font-size="17.2" font-weight="normal" fill="#131722" text-anchor="start" textLength="44.37" lengthAdjust="spacingAndGlyphs" stroke="#131722" stroke-width="0.5">07:10</text>
<text x="557.82" y="28.9" font-family="Liberation Sans, sans-serif" font-size="17.2" font-weight="normal" fill="#131722" text-anchor="start" textLength="32.23" lengthAdjust="spacingAndGlyphs" stroke="#131722" stroke-width="0.5">UTC</text>
<text x="26.45" y="69.8" font-family="Liberation Sans, sans-serif" font-size="18" font-weight="normal" fill="#131722" text-anchor="start" textLength="78.65" lengthAdjust="spacingAndGlyphs" stroke="#131722" stroke-width="0.5">Ethereum</text>
<text x="112.2" y="69.8" font-family="Liberation Sans, sans-serif" font-size="18" font-weight="normal" fill="#131722" text-anchor="start" textLength="5.85" lengthAdjust="spacingAndGlyphs" stroke="#131722" stroke-width="0.5">/</text>
<text x="125.01" y="69.8" font-family="Liberation Sans, sans-serif" font-size="18" font-weight="normal" fill="#131722" text-anchor="start" textLength="33.54" lengthAdjust="spacingAndGlyphs" stroke="#131722" stroke-width="0.5">U.S.</text>
<text x="164.19" y="69.8" font-family="Liberation Sans, sans-serif" font-size="18" font-weight="normal" fill="#131722" text-anchor="start" textLength="46.12" lengthAdjust="spacingAndGlyphs" stroke="#131722" stroke-width="0.5">Dollar</text>
<text x="216.77" y="69.8" font-family="Liberation Sans, sans-serif" font-size="18" font-weight="normal" fill="#131722" text-anchor="start" textLength="7.33" lengthAdjust="spacingAndGlyphs" stroke="#131722" stroke-width="0.5">·</text>
<text x="229.9" y="69.8" font-family="Liberation Sans, sans-serif" font-size="18" font-weight="normal" fill="#131722" text-anchor="start" textLength="18.82" lengthAdjust="spacingAndGlyphs" stroke="#131722" stroke-width="0.5">1D</text>
<text x="255.17" y="69.8" font-family="Liberation Sans, sans-serif" font-size="18" font-weight="normal" fill="#131722" text-anchor="start" textLength="7.33" lengthAdjust="spacingAndGlyphs" stroke="#131722" stroke-width="0.5">·</text>
<text x="267.19" y="69.8" font-family="Liberation Sans, sans-serif" font-size="18" font-weight="normal" fill="#131722" text-anchor="start" textLength="63.49" lengthAdjust="spacingAndGlyphs" stroke="#131722" stroke-width="0.5">Binance</text>
<text x="341.5" y="69.8" font-family="Liberation Sans, sans-serif" font-size="18" font-weight="normal" fill="#131722" text-anchor="start" textLength="12.15" lengthAdjust="spacingAndGlyphs" stroke="#131722" stroke-width="0.5">O</text>
<text x="434.11" y="69.8" font-family="Liberation Sans, sans-serif" font-size="18" font-weight="normal" fill="#131722" text-anchor="start" textLength="12.51" lengthAdjust="spacingAndGlyphs" stroke="#131722" stroke-width="0.5">H</text>
<text x="526.81" y="69.8" font-family="Liberation Sans, sans-serif" font-size="18" font-weight="normal" fill="#131722" text-anchor="start" textLength="9.0" lengthAdjust="spacingAndGlyphs" stroke="#131722" stroke-width="0.5">L</text>
<text x="616.42" y="69.8" font-family="Liberation Sans, sans-serif" font-size="18" font-weight="normal" fill="#131722" text-anchor="start" textLength="9.78" lengthAdjust="spacingAndGlyphs" stroke="#131722" stroke-width="0.5">C</text>
<text x="355.81" y="69.8" font-family="Liberation Sans, sans-serif" font-size="18" font-weight="normal" fill="#F23645" text-anchor="start" textLength="67.07" lengthAdjust="spacingAndGlyphs" stroke="#F23645" stroke-width="0.5">1,856.74</text>
<text x="447.29" y="69.8" font-family="Liberation Sans, sans-serif" font-size="18" font-weight="normal" fill="#F23645" text-anchor="start" textLength="67.75" lengthAdjust="spacingAndGlyphs" stroke="#F23645" stroke-width="0.5">1,869.05</text>
<text x="537.4" y="69.8" font-family="Liberation Sans, sans-serif" font-size="18" font-weight="normal" fill="#F23645" text-anchor="start" textLength="67.66" lengthAdjust="spacingAndGlyphs" stroke="#F23645" stroke-width="0.5">1,813.20</text>
<text x="628.48" y="69.8" font-family="Liberation Sans, sans-serif" font-size="18" font-weight="normal" fill="#F23645" text-anchor="start" textLength="68.34" lengthAdjust="spacingAndGlyphs" stroke="#F23645" stroke-width="0.5">1,828.92</text>
<text x="708.14" y="69.8" font-family="Liberation Sans, sans-serif" font-size="18" font-weight="normal" fill="#F23645" text-anchor="start" textLength="53.16" lengthAdjust="spacingAndGlyphs" stroke="#F23645" stroke-width="0.5">−25.89</text>
<text x="768.62" y="69.8" font-family="Liberation Sans, sans-serif" font-size="18" font-weight="normal" fill="#F23645" text-anchor="start" textLength="66.67" lengthAdjust="spacingAndGlyphs" stroke="#F23645" stroke-width="0.5">(−1.40%)</text>
<text x="26.47" y="802.6" font-family="Liberation Sans, sans-serif" font-size="18" font-weight="normal" fill="#131722" text-anchor="start" textLength="45.29" lengthAdjust="spacingAndGlyphs" stroke="#131722" stroke-width="0.5">MACD</text>
<text x="78.22" y="802.6" font-family="Liberation Sans, sans-serif" font-size="18" font-weight="normal" fill="#131722" text-anchor="start" textLength="52.91" lengthAdjust="spacingAndGlyphs" stroke="#131722" stroke-width="0.5">(close,</text>
<text x="137.56" y="802.6" font-family="Liberation Sans, sans-serif" font-size="18" font-weight="normal" fill="#131722" text-anchor="start" textLength="24.85" lengthAdjust="spacingAndGlyphs" stroke="#131722" stroke-width="0.5">12,</text>
<text x="167.98" y="802.6" font-family="Liberation Sans, sans-serif" font-size="18" font-weight="normal" fill="#131722" text-anchor="start" textLength="25.69" lengthAdjust="spacingAndGlyphs" stroke="#131722" stroke-width="0.5">26,</text>
<text x="199.31" y="802.6" font-family="Liberation Sans, sans-serif" font-size="18" font-weight="normal" fill="#131722" text-anchor="start" textLength="15.62" lengthAdjust="spacingAndGlyphs" stroke="#131722" stroke-width="0.5">9)</text>
<text x="226.01" y="802.6" font-family="Liberation Sans, sans-serif" font-size="18" font-weight="normal" fill="#B2DFDB" text-anchor="start" textLength="44.48" lengthAdjust="spacingAndGlyphs" stroke="#B2DFDB" stroke-width="0.5">20.54</text>
<text x="281.34" y="802.6" font-family="Liberation Sans, sans-serif" font-size="18" font-weight="normal" fill="#2962FF" text-anchor="start" textLength="62.59" lengthAdjust="spacingAndGlyphs" stroke="#2962FF" stroke-width="0.5">−176.93</text>
<text x="355.22" y="802.6" font-family="Liberation Sans, sans-serif" font-size="18" font-weight="normal" fill="#FF6D00" text-anchor="start" textLength="63.8" lengthAdjust="spacingAndGlyphs" stroke="#FF6D00" stroke-width="0.5">−197.47</text>
<g transform="translate(18,1088.9) scale(1.261)" fill="#131722"><path d="M14 22H7V11H0V4h14v18zM28 22h-8l7.5-18h8L28 22z"/><circle cx="20" cy="8" r="4"/></g>
<g transform="translate(10,1080) scale(0.12299)" fill="none" stroke="#15171d" stroke-width="37">
<path d="M517 133.5H650" /><path d="M585 115V295" stroke-width="42"/>
<path d="M686.5 165V295"/><path d="M686.5 240Q686.5 184 737 184"/>
<circle cx="803" cy="230" r="48" stroke-width="34"/><path d="M849.5 165V295"/>
<circle cx="958" cy="230" r="48" stroke-width="34"/><path d="M1011.5 115V295"/>
<path d="M1073.5 165V295"/><circle cx="1073.5" cy="131" r="23" fill="#15171d" stroke="none"/>
<path d="M1138.5 165V295"/><path d="M1138.5 235V225A41.5 41.5 0 0 1 1221.5 225V295"/>
<circle cx="1327" cy="230" r="48" stroke-width="34"/><path d="M1376.5 165V285Q1376.5 333 1326 333Q1290 333 1276 310"/>
<path d="M1395 115H1441L1480 238L1519 115H1565L1501 295H1459Z" fill="#15171d" stroke="none"/>
<path d="M1601 165V295"/><circle cx="1601" cy="131" r="23" fill="#15171d" stroke="none"/>
<path d="M1752.5 232A48.5 48.5 0 1 0 1741.2 261.2" stroke-width="33"/><path d="M1662 236H1768" stroke-width="26"/>
<path d="M1775 165H1815L1839 243L1864 180H1901L1926 243L1950 165H1990L1948 295H1908L1882.5 222L1857 295H1817Z" fill="#15171d" stroke="none"/>
</g>
</svg></body></html>
